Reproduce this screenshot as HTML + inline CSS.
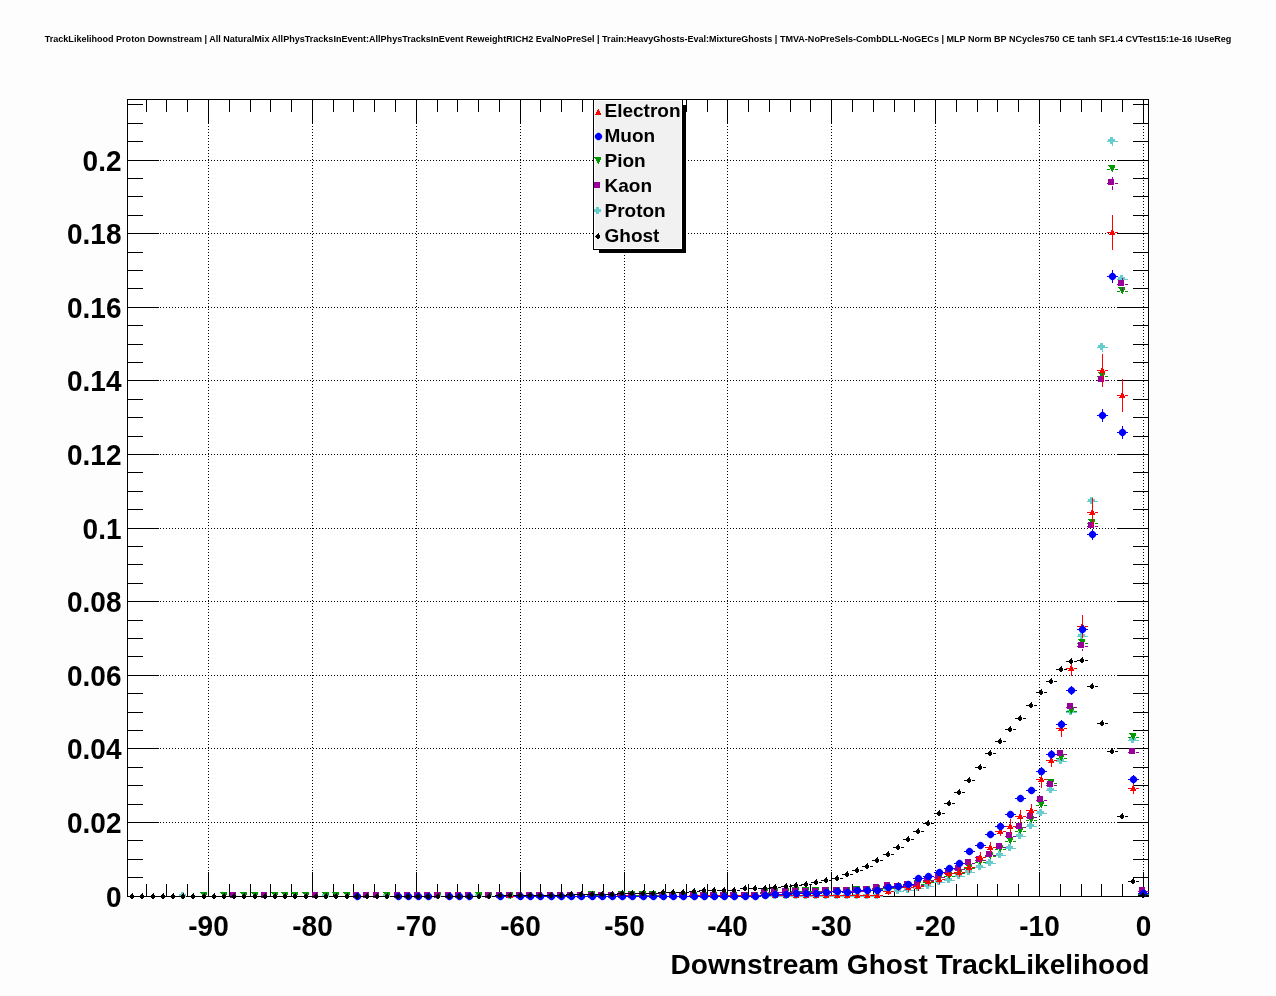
<!DOCTYPE html>
<html><head><meta charset="utf-8"><title>TrackLikelihood Proton Downstream</title>
<style>
html,body{margin:0;padding:0;background:#fdfdfd;width:1276px;height:996px;overflow:hidden}
svg{display:block;will-change:transform}
.t{font-family:"Liberation Sans",Arial,Helvetica,sans-serif;font-weight:bold;fill:#000}
.gd{stroke:#000;stroke-width:1;stroke-dasharray:1 2;fill:none}
</style></head><body>
<svg width="1276" height="996" viewBox="0 0 1276 996" shape-rendering="crispEdges">
<rect x="0" y="0" width="1276" height="996" fill="#fdfdfd"/>
<rect x="126" y="98" width="1024" height="800" fill="#ffffff"/>
<text x="638" y="42" text-anchor="middle" font-size="9" textLength="1186.5" lengthAdjust="spacingAndGlyphs" class="t">TrackLikelihood Proton Downstream | All NaturalMix AllPhysTracksInEvent:AllPhysTracksInEvent ReweightRICH2 EvalNoPreSel | Train:HeavyGhosts-Eval:MixtureGhosts | TMVA-NoPreSels-CombDLL-NoGECs | MLP Norm BP NCycles750 CE tanh SF1.4 CVTest15:1e-16 !UseReg</text>
<g><line x1="208.5" y1="99" x2="208.5" y2="896" class="gd"/><line x1="312.5" y1="99" x2="312.5" y2="896" class="gd"/><line x1="416.5" y1="99" x2="416.5" y2="896" class="gd"/><line x1="520.5" y1="99" x2="520.5" y2="896" class="gd"/><line x1="624.5" y1="99" x2="624.5" y2="896" class="gd"/><line x1="727.5" y1="99" x2="727.5" y2="896" class="gd"/><line x1="831.5" y1="99" x2="831.5" y2="896" class="gd"/><line x1="935.5" y1="99" x2="935.5" y2="896" class="gd"/><line x1="1039.5" y1="99" x2="1039.5" y2="896" class="gd"/><line x1="1143.5" y1="99" x2="1143.5" y2="896" class="gd"/><line x1="127" y1="822.5" x2="1148" y2="822.5" class="gd"/><line x1="127" y1="748.5" x2="1148" y2="748.5" class="gd"/><line x1="127" y1="675.5" x2="1148" y2="675.5" class="gd"/><line x1="127" y1="601.5" x2="1148" y2="601.5" class="gd"/><line x1="127" y1="528.5" x2="1148" y2="528.5" class="gd"/><line x1="127" y1="454.5" x2="1148" y2="454.5" class="gd"/><line x1="127" y1="380.5" x2="1148" y2="380.5" class="gd"/><line x1="127" y1="307.5" x2="1148" y2="307.5" class="gd"/><line x1="127" y1="233.5" x2="1148" y2="233.5" class="gd"/><line x1="127" y1="160.5" x2="1148" y2="160.5" class="gd"/></g>
<path d="M146.5 896V884M146.5 100V112M166.5 896V884M166.5 100V112M187.5 896V884M187.5 100V112M208.5 896V872M208.5 100V124M229.5 896V884M229.5 100V112M250.5 896V884M250.5 100V112M270.5 896V884M270.5 100V112M291.5 896V884M291.5 100V112M312.5 896V872M312.5 100V124M333.5 896V884M333.5 100V112M353.5 896V884M353.5 100V112M374.5 896V884M374.5 100V112M395.5 896V884M395.5 100V112M416.5 896V872M416.5 100V124M437.5 896V884M437.5 100V112M457.5 896V884M457.5 100V112M478.5 896V884M478.5 100V112M499.5 896V884M499.5 100V112M520.5 896V872M520.5 100V124M540.5 896V884M540.5 100V112M561.5 896V884M561.5 100V112M582.5 896V884M582.5 100V112M603.5 896V884M603.5 100V112M624.5 896V872M624.5 100V124M644.5 896V884M644.5 100V112M665.5 896V884M665.5 100V112M686.5 896V884M686.5 100V112M707.5 896V884M707.5 100V112M727.5 896V872M727.5 100V124M748.5 896V884M748.5 100V112M769.5 896V884M769.5 100V112M790.5 896V884M790.5 100V112M810.5 896V884M810.5 100V112M831.5 896V872M831.5 100V124M852.5 896V884M852.5 100V112M873.5 896V884M873.5 100V112M894.5 896V884M894.5 100V112M914.5 896V884M914.5 100V112M935.5 896V872M935.5 100V124M956.5 896V884M956.5 100V112M977.5 896V884M977.5 100V112M997.5 896V884M997.5 100V112M1018.5 896V884M1018.5 100V112M1039.5 896V872M1039.5 100V124M1060.5 896V884M1060.5 100V112M1081.5 896V884M1081.5 100V112M1101.5 896V884M1101.5 100V112M1122.5 896V884M1122.5 100V112M1143.5 896V872M1143.5 100V124M128 896.5H159M1148 896.5H1117M128 877.5H143M1148 877.5H1133M128 859.5H143M1148 859.5H1133M128 840.5H143M1148 840.5H1133M128 822.5H159M1148 822.5H1117M128 804.5H143M1148 804.5H1133M128 785.5H143M1148 785.5H1133M128 767.5H143M1148 767.5H1133M128 748.5H159M1148 748.5H1117M128 730.5H143M1148 730.5H1133M128 712.5H143M1148 712.5H1133M128 693.5H143M1148 693.5H1133M128 675.5H159M1148 675.5H1117M128 656.5H143M1148 656.5H1133M128 638.5H143M1148 638.5H1133M128 620.5H143M1148 620.5H1133M128 601.5H159M1148 601.5H1117M128 583.5H143M1148 583.5H1133M128 564.5H143M1148 564.5H1133M128 546.5H143M1148 546.5H1133M128 528.5H159M1148 528.5H1117M128 509.5H143M1148 509.5H1133M128 491.5H143M1148 491.5H1133M128 472.5H143M1148 472.5H1133M128 454.5H159M1148 454.5H1117M128 436.5H143M1148 436.5H1133M128 417.5H143M1148 417.5H1133M128 399.5H143M1148 399.5H1133M128 380.5H159M1148 380.5H1117M128 362.5H143M1148 362.5H1133M128 344.5H143M1148 344.5H1133M128 325.5H143M1148 325.5H1133M128 307.5H159M1148 307.5H1117M128 288.5H143M1148 288.5H1133M128 270.5H143M1148 270.5H1133M128 252.5H143M1148 252.5H1133M128 233.5H159M1148 233.5H1117M128 215.5H143M1148 215.5H1133M128 196.5H143M1148 196.5H1133M128 178.5H143M1148 178.5H1133M128 160.5H159M1148 160.5H1117M128 141.5H143M1148 141.5H1133M128 123.5H143M1148 123.5H1133M128 104.5H143M1148 104.5H1133" stroke="#000" stroke-width="1" fill="none"/>
<rect x="127.5" y="99.5" width="1021" height="797" fill="none" stroke="#000" stroke-width="1"/>
<text transform="translate(121.5 907.4) scale(1 1.07)" text-anchor="end" font-size="28" class="t">0</text><text transform="translate(121.5 833.4) scale(1 1.07)" text-anchor="end" font-size="28" class="t">0.02</text><text transform="translate(121.5 759.4) scale(1 1.07)" text-anchor="end" font-size="28" class="t">0.04</text><text transform="translate(121.5 686.4) scale(1 1.07)" text-anchor="end" font-size="28" class="t">0.06</text><text transform="translate(121.5 612.4) scale(1 1.07)" text-anchor="end" font-size="28" class="t">0.08</text><text transform="translate(121.5 539.4) scale(1 1.07)" text-anchor="end" font-size="28" class="t">0.1</text><text transform="translate(121.5 465.4) scale(1 1.07)" text-anchor="end" font-size="28" class="t">0.12</text><text transform="translate(121.5 391.4) scale(1 1.07)" text-anchor="end" font-size="28" class="t">0.14</text><text transform="translate(121.5 318.4) scale(1 1.07)" text-anchor="end" font-size="28" class="t">0.16</text><text transform="translate(121.5 244.4) scale(1 1.07)" text-anchor="end" font-size="28" class="t">0.18</text><text transform="translate(121.5 171.4) scale(1 1.07)" text-anchor="end" font-size="28" class="t">0.2</text><text transform="translate(208.5 935.7) scale(1 1.07)" text-anchor="middle" font-size="28" class="t">-90</text><text transform="translate(312.5 935.7) scale(1 1.07)" text-anchor="middle" font-size="28" class="t">-80</text><text transform="translate(416.5 935.7) scale(1 1.07)" text-anchor="middle" font-size="28" class="t">-70</text><text transform="translate(520.5 935.7) scale(1 1.07)" text-anchor="middle" font-size="28" class="t">-60</text><text transform="translate(624.5 935.7) scale(1 1.07)" text-anchor="middle" font-size="28" class="t">-50</text><text transform="translate(727.5 935.7) scale(1 1.07)" text-anchor="middle" font-size="28" class="t">-40</text><text transform="translate(831.5 935.7) scale(1 1.07)" text-anchor="middle" font-size="28" class="t">-30</text><text transform="translate(935.5 935.7) scale(1 1.07)" text-anchor="middle" font-size="28" class="t">-20</text><text transform="translate(1039.5 935.7) scale(1 1.07)" text-anchor="middle" font-size="28" class="t">-10</text><text transform="translate(1143.5 935.7) scale(1 1.07)" text-anchor="middle" font-size="28" class="t">0</text><text x="1149.5" y="974" text-anchor="end" font-size="28" textLength="479" lengthAdjust="spacingAndGlyphs" class="t">Downstream Ghost TrackLikelihood</text>
<g><path d="M178 896.5H181M186 896.5H189M321 896.5H324M329 896.5H332M382 896.5H385M390 896.5H393M433 896.5H436M441 896.5H444M474 896.5H477M482 896.5H485M484 896.5H487M492 896.5H495M505 896.5H508M513 896.5H516M638 896.5H641M646 896.5H649M648 896.5H651M656 896.5H659M658 896.5H661M666 896.5H669M668 896.5H671M676 896.5H679M678 896.5H681M686 896.5H689M689 896.5H692M697 896.5H700M699 896.5H702M707 896.5H710M709 896.5H712M717 896.5H720M719 896.5H722M727 896.5H730M729 896.5H732M737 896.5H740M740 896.5H743M748 896.5H751M750 896.5H753M758 896.5H761M760 896.5H763M768 896.5H771M770 896.5H773M778 896.5H781M781 896.5H784M789 896.5H792M791 896.5H794M799 896.5H802M801 896.5H804M809 896.5H812M811 896.5H814M819 896.5H822M821 896.5H824M829 896.5H832M832 896.5H835M840 896.5H843M842 896.5H845M850 896.5H853M852 896.5H855M860 896.5H863M862 896.5H865M870 896.5H873M872 896.5H875M880 896.5H883M883 891.5H886M891 891.5H894M893 891.5H896M901 891.5H904M903 890.5H906M911 890.5H914M913 888.5H916M921 888.5H924M923 886.5H926M931 886.5H934M934 882.5H937M942 882.5H945M944 880.5H947M952 880.5H955M954 876.5H957M962 876.5H965M964 872.5H967M972 872.5H975M975 867.5H978M983 867.5H986M985 863.5H988M993 863.5H996M995 855.5H998M1003 855.5H1006M1005 848.5H1008M1013 848.5H1016M1015 836.5H1018M1023 836.5H1026M1026 826.5H1029M1034 826.5H1037M1036 813.5H1039M1044 813.5H1047M1046 790.5H1049M1054 790.5H1057M1056 761.5H1059M1064 761.5H1067M1066 712.5H1069M1074 712.5H1077M1077 636.5H1080M1085 636.5H1088M1087 501.5H1090M1095 501.5H1098M1092.5 497V499M1092.5 504V506M1097 347.5H1100M1105 347.5H1108M1102.5 343V345M1102.5 350V352M1107 141.5H1110M1115 141.5H1118M1112.5 137V139M1112.5 144V146M1117 279.5H1120M1125 279.5H1128M1122.5 275V277M1122.5 282V284M1128 740.5H1131M1136 740.5H1139M1138 894.5H1141M1146 894.5H1149" stroke="#66cccc" stroke-width="1" fill="none"/><path d="M181 892h3v1h-3zM181 893h3v1h-3zM179 894h7v1h-7zM179 895h7v1h-7zM179 896h7v1h-7zM181 897h3v1h-3zM181 898h3v1h-3zM324 892h3v1h-3zM324 893h3v1h-3zM322 894h7v1h-7zM322 895h7v1h-7zM322 896h7v1h-7zM324 897h3v1h-3zM324 898h3v1h-3zM385 892h3v1h-3zM385 893h3v1h-3zM383 894h7v1h-7zM383 895h7v1h-7zM383 896h7v1h-7zM385 897h3v1h-3zM385 898h3v1h-3zM436 892h3v1h-3zM436 893h3v1h-3zM434 894h7v1h-7zM434 895h7v1h-7zM434 896h7v1h-7zM436 897h3v1h-3zM436 898h3v1h-3zM477 892h3v1h-3zM477 893h3v1h-3zM475 894h7v1h-7zM475 895h7v1h-7zM475 896h7v1h-7zM477 897h3v1h-3zM477 898h3v1h-3zM487 892h3v1h-3zM487 893h3v1h-3zM485 894h7v1h-7zM485 895h7v1h-7zM485 896h7v1h-7zM487 897h3v1h-3zM487 898h3v1h-3zM508 892h3v1h-3zM508 893h3v1h-3zM506 894h7v1h-7zM506 895h7v1h-7zM506 896h7v1h-7zM508 897h3v1h-3zM508 898h3v1h-3zM641 892h3v1h-3zM641 893h3v1h-3zM639 894h7v1h-7zM639 895h7v1h-7zM639 896h7v1h-7zM641 897h3v1h-3zM641 898h3v1h-3zM651 892h3v1h-3zM651 893h3v1h-3zM649 894h7v1h-7zM649 895h7v1h-7zM649 896h7v1h-7zM651 897h3v1h-3zM651 898h3v1h-3zM661 892h3v1h-3zM661 893h3v1h-3zM659 894h7v1h-7zM659 895h7v1h-7zM659 896h7v1h-7zM661 897h3v1h-3zM661 898h3v1h-3zM671 892h3v1h-3zM671 893h3v1h-3zM669 894h7v1h-7zM669 895h7v1h-7zM669 896h7v1h-7zM671 897h3v1h-3zM671 898h3v1h-3zM681 892h3v1h-3zM681 893h3v1h-3zM679 894h7v1h-7zM679 895h7v1h-7zM679 896h7v1h-7zM681 897h3v1h-3zM681 898h3v1h-3zM692 892h3v1h-3zM692 893h3v1h-3zM690 894h7v1h-7zM690 895h7v1h-7zM690 896h7v1h-7zM692 897h3v1h-3zM692 898h3v1h-3zM702 892h3v1h-3zM702 893h3v1h-3zM700 894h7v1h-7zM700 895h7v1h-7zM700 896h7v1h-7zM702 897h3v1h-3zM702 898h3v1h-3zM712 892h3v1h-3zM712 893h3v1h-3zM710 894h7v1h-7zM710 895h7v1h-7zM710 896h7v1h-7zM712 897h3v1h-3zM712 898h3v1h-3zM722 892h3v1h-3zM722 893h3v1h-3zM720 894h7v1h-7zM720 895h7v1h-7zM720 896h7v1h-7zM722 897h3v1h-3zM722 898h3v1h-3zM732 892h3v1h-3zM732 893h3v1h-3zM730 894h7v1h-7zM730 895h7v1h-7zM730 896h7v1h-7zM732 897h3v1h-3zM732 898h3v1h-3zM743 892h3v1h-3zM743 893h3v1h-3zM741 894h7v1h-7zM741 895h7v1h-7zM741 896h7v1h-7zM743 897h3v1h-3zM743 898h3v1h-3zM753 892h3v1h-3zM753 893h3v1h-3zM751 894h7v1h-7zM751 895h7v1h-7zM751 896h7v1h-7zM753 897h3v1h-3zM753 898h3v1h-3zM763 892h3v1h-3zM763 893h3v1h-3zM761 894h7v1h-7zM761 895h7v1h-7zM761 896h7v1h-7zM763 897h3v1h-3zM763 898h3v1h-3zM773 892h3v1h-3zM773 893h3v1h-3zM771 894h7v1h-7zM771 895h7v1h-7zM771 896h7v1h-7zM773 897h3v1h-3zM773 898h3v1h-3zM784 892h3v1h-3zM784 893h3v1h-3zM782 894h7v1h-7zM782 895h7v1h-7zM782 896h7v1h-7zM784 897h3v1h-3zM784 898h3v1h-3zM794 892h3v1h-3zM794 893h3v1h-3zM792 894h7v1h-7zM792 895h7v1h-7zM792 896h7v1h-7zM794 897h3v1h-3zM794 898h3v1h-3zM804 892h3v1h-3zM804 893h3v1h-3zM802 894h7v1h-7zM802 895h7v1h-7zM802 896h7v1h-7zM804 897h3v1h-3zM804 898h3v1h-3zM814 892h3v1h-3zM814 893h3v1h-3zM812 894h7v1h-7zM812 895h7v1h-7zM812 896h7v1h-7zM814 897h3v1h-3zM814 898h3v1h-3zM824 892h3v1h-3zM824 893h3v1h-3zM822 894h7v1h-7zM822 895h7v1h-7zM822 896h7v1h-7zM824 897h3v1h-3zM824 898h3v1h-3zM835 892h3v1h-3zM835 893h3v1h-3zM833 894h7v1h-7zM833 895h7v1h-7zM833 896h7v1h-7zM835 897h3v1h-3zM835 898h3v1h-3zM845 892h3v1h-3zM845 893h3v1h-3zM843 894h7v1h-7zM843 895h7v1h-7zM843 896h7v1h-7zM845 897h3v1h-3zM845 898h3v1h-3zM855 892h3v1h-3zM855 893h3v1h-3zM853 894h7v1h-7zM853 895h7v1h-7zM853 896h7v1h-7zM855 897h3v1h-3zM855 898h3v1h-3zM865 892h3v1h-3zM865 893h3v1h-3zM863 894h7v1h-7zM863 895h7v1h-7zM863 896h7v1h-7zM865 897h3v1h-3zM865 898h3v1h-3zM875 892h3v1h-3zM875 893h3v1h-3zM873 894h7v1h-7zM873 895h7v1h-7zM873 896h7v1h-7zM875 897h3v1h-3zM875 898h3v1h-3zM886 887h3v1h-3zM886 888h3v1h-3zM884 889h7v1h-7zM884 890h7v1h-7zM884 891h7v1h-7zM886 892h3v1h-3zM886 893h3v1h-3zM896 887h3v1h-3zM896 888h3v1h-3zM894 889h7v1h-7zM894 890h7v1h-7zM894 891h7v1h-7zM896 892h3v1h-3zM896 893h3v1h-3zM906 886h3v1h-3zM906 887h3v1h-3zM904 888h7v1h-7zM904 889h7v1h-7zM904 890h7v1h-7zM906 891h3v1h-3zM906 892h3v1h-3zM916 884h3v1h-3zM916 885h3v1h-3zM914 886h7v1h-7zM914 887h7v1h-7zM914 888h7v1h-7zM916 889h3v1h-3zM916 890h3v1h-3zM926 882h3v1h-3zM926 883h3v1h-3zM924 884h7v1h-7zM924 885h7v1h-7zM924 886h7v1h-7zM926 887h3v1h-3zM926 888h3v1h-3zM937 878h3v1h-3zM937 879h3v1h-3zM935 880h7v1h-7zM935 881h7v1h-7zM935 882h7v1h-7zM937 883h3v1h-3zM937 884h3v1h-3zM947 876h3v1h-3zM947 877h3v1h-3zM945 878h7v1h-7zM945 879h7v1h-7zM945 880h7v1h-7zM947 881h3v1h-3zM947 882h3v1h-3zM957 872h3v1h-3zM957 873h3v1h-3zM955 874h7v1h-7zM955 875h7v1h-7zM955 876h7v1h-7zM957 877h3v1h-3zM957 878h3v1h-3zM967 868h3v1h-3zM967 869h3v1h-3zM965 870h7v1h-7zM965 871h7v1h-7zM965 872h7v1h-7zM967 873h3v1h-3zM967 874h3v1h-3zM978 863h3v1h-3zM978 864h3v1h-3zM976 865h7v1h-7zM976 866h7v1h-7zM976 867h7v1h-7zM978 868h3v1h-3zM978 869h3v1h-3zM988 859h3v1h-3zM988 860h3v1h-3zM986 861h7v1h-7zM986 862h7v1h-7zM986 863h7v1h-7zM988 864h3v1h-3zM988 865h3v1h-3zM998 851h3v1h-3zM998 852h3v1h-3zM996 853h7v1h-7zM996 854h7v1h-7zM996 855h7v1h-7zM998 856h3v1h-3zM998 857h3v1h-3zM1008 844h3v1h-3zM1008 845h3v1h-3zM1006 846h7v1h-7zM1006 847h7v1h-7zM1006 848h7v1h-7zM1008 849h3v1h-3zM1008 850h3v1h-3zM1018 832h3v1h-3zM1018 833h3v1h-3zM1016 834h7v1h-7zM1016 835h7v1h-7zM1016 836h7v1h-7zM1018 837h3v1h-3zM1018 838h3v1h-3zM1029 822h3v1h-3zM1029 823h3v1h-3zM1027 824h7v1h-7zM1027 825h7v1h-7zM1027 826h7v1h-7zM1029 827h3v1h-3zM1029 828h3v1h-3zM1039 809h3v1h-3zM1039 810h3v1h-3zM1037 811h7v1h-7zM1037 812h7v1h-7zM1037 813h7v1h-7zM1039 814h3v1h-3zM1039 815h3v1h-3zM1049 786h3v1h-3zM1049 787h3v1h-3zM1047 788h7v1h-7zM1047 789h7v1h-7zM1047 790h7v1h-7zM1049 791h3v1h-3zM1049 792h3v1h-3zM1059 757h3v1h-3zM1059 758h3v1h-3zM1057 759h7v1h-7zM1057 760h7v1h-7zM1057 761h7v1h-7zM1059 762h3v1h-3zM1059 763h3v1h-3zM1069 708h3v1h-3zM1069 709h3v1h-3zM1067 710h7v1h-7zM1067 711h7v1h-7zM1067 712h7v1h-7zM1069 713h3v1h-3zM1069 714h3v1h-3zM1080 632h3v1h-3zM1080 633h3v1h-3zM1078 634h7v1h-7zM1078 635h7v1h-7zM1078 636h7v1h-7zM1080 637h3v1h-3zM1080 638h3v1h-3zM1090 497h3v1h-3zM1090 498h3v1h-3zM1088 499h7v1h-7zM1088 500h7v1h-7zM1088 501h7v1h-7zM1090 502h3v1h-3zM1090 503h3v1h-3zM1100 343h3v1h-3zM1100 344h3v1h-3zM1098 345h7v1h-7zM1098 346h7v1h-7zM1098 347h7v1h-7zM1100 348h3v1h-3zM1100 349h3v1h-3zM1110 137h3v1h-3zM1110 138h3v1h-3zM1108 139h7v1h-7zM1108 140h7v1h-7zM1108 141h7v1h-7zM1110 142h3v1h-3zM1110 143h3v1h-3zM1120 275h3v1h-3zM1120 276h3v1h-3zM1118 277h7v1h-7zM1118 278h7v1h-7zM1118 279h7v1h-7zM1120 280h3v1h-3zM1120 281h3v1h-3zM1131 736h3v1h-3zM1131 737h3v1h-3zM1129 738h7v1h-7zM1129 739h7v1h-7zM1129 740h7v1h-7zM1131 741h3v1h-3zM1131 742h3v1h-3zM1141 890h3v1h-3zM1141 891h3v1h-3zM1139 892h7v1h-7zM1139 893h7v1h-7zM1139 894h7v1h-7zM1141 895h3v1h-3zM1141 896h3v1h-3z" fill="#66cccc"/><path d="M199 896.5H202M207 896.5H210M219 896.5H222M227 896.5H230M239 896.5H242M247 896.5H250M250 896.5H253M258 896.5H261M270 896.5H273M278 896.5H281M280 896.5H283M288 896.5H291M290 896.5H293M298 896.5H301M301 896.5H304M309 896.5H312M321 896.5H324M329 896.5H332M331 896.5H334M339 896.5H342M342 896.5H345M350 896.5H353M382 896.5H385M390 896.5H393M433 896.5H436M441 896.5H444M474 896.5H477M482 896.5H485M484 896.5H487M492 896.5H495M505 896.5H508M513 896.5H516M587 895.5H590M595 895.5H598M617 895.5H620M625 895.5H628M627 895.5H630M635 895.5H638M638 895.5H641M646 895.5H649M648 895.5H651M656 895.5H659M658 896.5H661M666 896.5H669M668 896.5H671M676 896.5H679M678 896.5H681M686 896.5H689M689 896.5H692M697 896.5H700M699 896.5H702M707 896.5H710M709 896.5H712M717 896.5H720M719 896.5H722M727 896.5H730M729 896.5H732M737 896.5H740M740 896.5H743M748 896.5H751M750 896.5H753M758 896.5H761M760 892.5H763M768 892.5H771M770 892.5H773M778 892.5H781M781 892.5H784M789 892.5H792M791 891.5H794M799 891.5H802M801 891.5H804M809 891.5H812M811 891.5H814M819 891.5H822M821 891.5H824M829 891.5H832M832 891.5H835M840 891.5H843M842 891.5H845M850 891.5H853M852 890.5H855M860 890.5H863M862 890.5H865M870 890.5H873M872 889.5H875M880 889.5H883M883 888.5H886M891 888.5H894M893 887.5H896M901 887.5H904M903 887.5H906M911 887.5H914M913 884.5H916M921 884.5H924M923 882.5H926M931 882.5H934M934 879.5H937M942 879.5H945M944 876.5H947M952 876.5H955M954 873.5H957M962 873.5H965M964 868.5H967M972 868.5H975M975 862.5H978M983 862.5H986M985 856.5H988M993 856.5H996M995 849.5H998M1003 849.5H1006M1005 841.5H1008M1013 841.5H1016M1015 831.5H1018M1023 831.5H1026M1026 820.5H1029M1034 820.5H1037M1036 805.5H1039M1044 805.5H1047M1046 783.5H1049M1054 783.5H1057M1056 758.5H1059M1064 758.5H1067M1066 711.5H1069M1074 711.5H1077M1077 643.5H1080M1085 643.5H1088M1087 523.5H1090M1095 523.5H1098M1097 376.5H1100M1105 376.5H1108M1107 169.5H1110M1115 169.5H1118M1117 291.5H1120M1125 291.5H1128M1128 737.5H1131M1136 737.5H1139M1138 894.5H1141M1146 894.5H1149" stroke="#009900" stroke-width="1" fill="none"/><path d="M200 892h7v1h-7zM201 893h6v1h-6zM202 894h5v1h-5zM202 895h4v1h-4zM203 896h3v1h-3zM203 897h2v1h-2zM204 898h1v1h-1zM220 892h7v1h-7zM221 893h6v1h-6zM222 894h5v1h-5zM222 895h4v1h-4zM223 896h3v1h-3zM223 897h2v1h-2zM224 898h1v1h-1zM240 892h7v1h-7zM241 893h6v1h-6zM242 894h5v1h-5zM242 895h4v1h-4zM243 896h3v1h-3zM243 897h2v1h-2zM244 898h1v1h-1zM251 892h7v1h-7zM252 893h6v1h-6zM253 894h5v1h-5zM253 895h4v1h-4zM254 896h3v1h-3zM254 897h2v1h-2zM255 898h1v1h-1zM271 892h7v1h-7zM272 893h6v1h-6zM273 894h5v1h-5zM273 895h4v1h-4zM274 896h3v1h-3zM274 897h2v1h-2zM275 898h1v1h-1zM281 892h7v1h-7zM282 893h6v1h-6zM283 894h5v1h-5zM283 895h4v1h-4zM284 896h3v1h-3zM284 897h2v1h-2zM285 898h1v1h-1zM291 892h7v1h-7zM292 893h6v1h-6zM293 894h5v1h-5zM293 895h4v1h-4zM294 896h3v1h-3zM294 897h2v1h-2zM295 898h1v1h-1zM302 892h7v1h-7zM303 893h6v1h-6zM304 894h5v1h-5zM304 895h4v1h-4zM305 896h3v1h-3zM305 897h2v1h-2zM306 898h1v1h-1zM322 892h7v1h-7zM323 893h6v1h-6zM324 894h5v1h-5zM324 895h4v1h-4zM325 896h3v1h-3zM325 897h2v1h-2zM326 898h1v1h-1zM332 892h7v1h-7zM333 893h6v1h-6zM334 894h5v1h-5zM334 895h4v1h-4zM335 896h3v1h-3zM335 897h2v1h-2zM336 898h1v1h-1zM343 892h7v1h-7zM344 893h6v1h-6zM345 894h5v1h-5zM345 895h4v1h-4zM346 896h3v1h-3zM346 897h2v1h-2zM347 898h1v1h-1zM383 892h7v1h-7zM384 893h6v1h-6zM385 894h5v1h-5zM385 895h4v1h-4zM386 896h3v1h-3zM386 897h2v1h-2zM387 898h1v1h-1zM434 892h7v1h-7zM435 893h6v1h-6zM436 894h5v1h-5zM436 895h4v1h-4zM437 896h3v1h-3zM437 897h2v1h-2zM438 898h1v1h-1zM475 892h7v1h-7zM476 893h6v1h-6zM477 894h5v1h-5zM477 895h4v1h-4zM478 896h3v1h-3zM478 897h2v1h-2zM479 898h1v1h-1zM485 892h7v1h-7zM486 893h6v1h-6zM487 894h5v1h-5zM487 895h4v1h-4zM488 896h3v1h-3zM488 897h2v1h-2zM489 898h1v1h-1zM506 892h7v1h-7zM507 893h6v1h-6zM508 894h5v1h-5zM508 895h4v1h-4zM509 896h3v1h-3zM509 897h2v1h-2zM510 898h1v1h-1zM588 891h7v1h-7zM589 892h6v1h-6zM590 893h5v1h-5zM590 894h4v1h-4zM591 895h3v1h-3zM591 896h2v1h-2zM592 897h1v1h-1zM618 891h7v1h-7zM619 892h6v1h-6zM620 893h5v1h-5zM620 894h4v1h-4zM621 895h3v1h-3zM621 896h2v1h-2zM622 897h1v1h-1zM628 891h7v1h-7zM629 892h6v1h-6zM630 893h5v1h-5zM630 894h4v1h-4zM631 895h3v1h-3zM631 896h2v1h-2zM632 897h1v1h-1zM639 891h7v1h-7zM640 892h6v1h-6zM641 893h5v1h-5zM641 894h4v1h-4zM642 895h3v1h-3zM642 896h2v1h-2zM643 897h1v1h-1zM649 891h7v1h-7zM650 892h6v1h-6zM651 893h5v1h-5zM651 894h4v1h-4zM652 895h3v1h-3zM652 896h2v1h-2zM653 897h1v1h-1zM659 892h7v1h-7zM660 893h6v1h-6zM661 894h5v1h-5zM661 895h4v1h-4zM662 896h3v1h-3zM662 897h2v1h-2zM663 898h1v1h-1zM669 892h7v1h-7zM670 893h6v1h-6zM671 894h5v1h-5zM671 895h4v1h-4zM672 896h3v1h-3zM672 897h2v1h-2zM673 898h1v1h-1zM679 892h7v1h-7zM680 893h6v1h-6zM681 894h5v1h-5zM681 895h4v1h-4zM682 896h3v1h-3zM682 897h2v1h-2zM683 898h1v1h-1zM690 892h7v1h-7zM691 893h6v1h-6zM692 894h5v1h-5zM692 895h4v1h-4zM693 896h3v1h-3zM693 897h2v1h-2zM694 898h1v1h-1zM700 892h7v1h-7zM701 893h6v1h-6zM702 894h5v1h-5zM702 895h4v1h-4zM703 896h3v1h-3zM703 897h2v1h-2zM704 898h1v1h-1zM710 892h7v1h-7zM711 893h6v1h-6zM712 894h5v1h-5zM712 895h4v1h-4zM713 896h3v1h-3zM713 897h2v1h-2zM714 898h1v1h-1zM720 892h7v1h-7zM721 893h6v1h-6zM722 894h5v1h-5zM722 895h4v1h-4zM723 896h3v1h-3zM723 897h2v1h-2zM724 898h1v1h-1zM730 892h7v1h-7zM731 893h6v1h-6zM732 894h5v1h-5zM732 895h4v1h-4zM733 896h3v1h-3zM733 897h2v1h-2zM734 898h1v1h-1zM741 892h7v1h-7zM742 893h6v1h-6zM743 894h5v1h-5zM743 895h4v1h-4zM744 896h3v1h-3zM744 897h2v1h-2zM745 898h1v1h-1zM751 892h7v1h-7zM752 893h6v1h-6zM753 894h5v1h-5zM753 895h4v1h-4zM754 896h3v1h-3zM754 897h2v1h-2zM755 898h1v1h-1zM761 888h7v1h-7zM762 889h6v1h-6zM763 890h5v1h-5zM763 891h4v1h-4zM764 892h3v1h-3zM764 893h2v1h-2zM765 894h1v1h-1zM771 888h7v1h-7zM772 889h6v1h-6zM773 890h5v1h-5zM773 891h4v1h-4zM774 892h3v1h-3zM774 893h2v1h-2zM775 894h1v1h-1zM782 888h7v1h-7zM783 889h6v1h-6zM784 890h5v1h-5zM784 891h4v1h-4zM785 892h3v1h-3zM785 893h2v1h-2zM786 894h1v1h-1zM792 887h7v1h-7zM793 888h6v1h-6zM794 889h5v1h-5zM794 890h4v1h-4zM795 891h3v1h-3zM795 892h2v1h-2zM796 893h1v1h-1zM802 887h7v1h-7zM803 888h6v1h-6zM804 889h5v1h-5zM804 890h4v1h-4zM805 891h3v1h-3zM805 892h2v1h-2zM806 893h1v1h-1zM812 887h7v1h-7zM813 888h6v1h-6zM814 889h5v1h-5zM814 890h4v1h-4zM815 891h3v1h-3zM815 892h2v1h-2zM816 893h1v1h-1zM822 887h7v1h-7zM823 888h6v1h-6zM824 889h5v1h-5zM824 890h4v1h-4zM825 891h3v1h-3zM825 892h2v1h-2zM826 893h1v1h-1zM833 887h7v1h-7zM834 888h6v1h-6zM835 889h5v1h-5zM835 890h4v1h-4zM836 891h3v1h-3zM836 892h2v1h-2zM837 893h1v1h-1zM843 887h7v1h-7zM844 888h6v1h-6zM845 889h5v1h-5zM845 890h4v1h-4zM846 891h3v1h-3zM846 892h2v1h-2zM847 893h1v1h-1zM853 886h7v1h-7zM854 887h6v1h-6zM855 888h5v1h-5zM855 889h4v1h-4zM856 890h3v1h-3zM856 891h2v1h-2zM857 892h1v1h-1zM863 886h7v1h-7zM864 887h6v1h-6zM865 888h5v1h-5zM865 889h4v1h-4zM866 890h3v1h-3zM866 891h2v1h-2zM867 892h1v1h-1zM873 885h7v1h-7zM874 886h6v1h-6zM875 887h5v1h-5zM875 888h4v1h-4zM876 889h3v1h-3zM876 890h2v1h-2zM877 891h1v1h-1zM884 884h7v1h-7zM885 885h6v1h-6zM886 886h5v1h-5zM886 887h4v1h-4zM887 888h3v1h-3zM887 889h2v1h-2zM888 890h1v1h-1zM894 883h7v1h-7zM895 884h6v1h-6zM896 885h5v1h-5zM896 886h4v1h-4zM897 887h3v1h-3zM897 888h2v1h-2zM898 889h1v1h-1zM904 883h7v1h-7zM905 884h6v1h-6zM906 885h5v1h-5zM906 886h4v1h-4zM907 887h3v1h-3zM907 888h2v1h-2zM908 889h1v1h-1zM914 880h7v1h-7zM915 881h6v1h-6zM916 882h5v1h-5zM916 883h4v1h-4zM917 884h3v1h-3zM917 885h2v1h-2zM918 886h1v1h-1zM924 878h7v1h-7zM925 879h6v1h-6zM926 880h5v1h-5zM926 881h4v1h-4zM927 882h3v1h-3zM927 883h2v1h-2zM928 884h1v1h-1zM935 875h7v1h-7zM936 876h6v1h-6zM937 877h5v1h-5zM937 878h4v1h-4zM938 879h3v1h-3zM938 880h2v1h-2zM939 881h1v1h-1zM945 872h7v1h-7zM946 873h6v1h-6zM947 874h5v1h-5zM947 875h4v1h-4zM948 876h3v1h-3zM948 877h2v1h-2zM949 878h1v1h-1zM955 869h7v1h-7zM956 870h6v1h-6zM957 871h5v1h-5zM957 872h4v1h-4zM958 873h3v1h-3zM958 874h2v1h-2zM959 875h1v1h-1zM965 864h7v1h-7zM966 865h6v1h-6zM967 866h5v1h-5zM967 867h4v1h-4zM968 868h3v1h-3zM968 869h2v1h-2zM969 870h1v1h-1zM976 858h7v1h-7zM977 859h6v1h-6zM978 860h5v1h-5zM978 861h4v1h-4zM979 862h3v1h-3zM979 863h2v1h-2zM980 864h1v1h-1zM986 852h7v1h-7zM987 853h6v1h-6zM988 854h5v1h-5zM988 855h4v1h-4zM989 856h3v1h-3zM989 857h2v1h-2zM990 858h1v1h-1zM996 845h7v1h-7zM997 846h6v1h-6zM998 847h5v1h-5zM998 848h4v1h-4zM999 849h3v1h-3zM999 850h2v1h-2zM1000 851h1v1h-1zM1006 837h7v1h-7zM1007 838h6v1h-6zM1008 839h5v1h-5zM1008 840h4v1h-4zM1009 841h3v1h-3zM1009 842h2v1h-2zM1010 843h1v1h-1zM1016 827h7v1h-7zM1017 828h6v1h-6zM1018 829h5v1h-5zM1018 830h4v1h-4zM1019 831h3v1h-3zM1019 832h2v1h-2zM1020 833h1v1h-1zM1027 816h7v1h-7zM1028 817h6v1h-6zM1029 818h5v1h-5zM1029 819h4v1h-4zM1030 820h3v1h-3zM1030 821h2v1h-2zM1031 822h1v1h-1zM1037 801h7v1h-7zM1038 802h6v1h-6zM1039 803h5v1h-5zM1039 804h4v1h-4zM1040 805h3v1h-3zM1040 806h2v1h-2zM1041 807h1v1h-1zM1047 779h7v1h-7zM1048 780h6v1h-6zM1049 781h5v1h-5zM1049 782h4v1h-4zM1050 783h3v1h-3zM1050 784h2v1h-2zM1051 785h1v1h-1zM1057 754h7v1h-7zM1058 755h6v1h-6zM1059 756h5v1h-5zM1059 757h4v1h-4zM1060 758h3v1h-3zM1060 759h2v1h-2zM1061 760h1v1h-1zM1067 707h7v1h-7zM1068 708h6v1h-6zM1069 709h5v1h-5zM1069 710h4v1h-4zM1070 711h3v1h-3zM1070 712h2v1h-2zM1071 713h1v1h-1zM1078 639h7v1h-7zM1079 640h6v1h-6zM1080 641h5v1h-5zM1080 642h4v1h-4zM1081 643h3v1h-3zM1081 644h2v1h-2zM1082 645h1v1h-1zM1088 519h7v1h-7zM1089 520h6v1h-6zM1090 521h5v1h-5zM1090 522h4v1h-4zM1091 523h3v1h-3zM1091 524h2v1h-2zM1092 525h1v1h-1zM1098 372h7v1h-7zM1099 373h6v1h-6zM1100 374h5v1h-5zM1100 375h4v1h-4zM1101 376h3v1h-3zM1101 377h2v1h-2zM1102 378h1v1h-1zM1108 165h7v1h-7zM1109 166h6v1h-6zM1110 167h5v1h-5zM1110 168h4v1h-4zM1111 169h3v1h-3zM1111 170h2v1h-2zM1112 171h1v1h-1zM1118 287h7v1h-7zM1119 288h6v1h-6zM1120 289h5v1h-5zM1120 290h4v1h-4zM1121 291h3v1h-3zM1121 292h2v1h-2zM1122 293h1v1h-1zM1129 733h7v1h-7zM1130 734h6v1h-6zM1131 735h5v1h-5zM1131 736h4v1h-4zM1132 737h3v1h-3zM1132 738h2v1h-2zM1133 739h1v1h-1zM1139 890h7v1h-7zM1140 891h6v1h-6zM1141 892h5v1h-5zM1141 893h4v1h-4zM1142 894h3v1h-3zM1142 895h2v1h-2zM1143 896h1v1h-1z" fill="#009900"/><path d="M229 896.5H232M237 896.5H240M260 896.5H263M268 896.5H271M311 896.5H314M319 896.5H322M352 896.5H355M360 896.5H363M362 896.5H365M370 896.5H373M372 896.5H375M380 896.5H383M393 896.5H396M401 896.5H404M403 896.5H406M411 896.5H414M413 896.5H416M421 896.5H424M423 896.5H426M431 896.5H434M433 896.5H436M441 896.5H444M444 896.5H447M452 896.5H455M454 896.5H457M462 896.5H465M464 896.5H467M472 896.5H475M484 896.5H487M492 896.5H495M495 896.5H498M503 896.5H506M505 896.5H508M513 896.5H516M515 896.5H518M523 896.5H526M525 896.5H528M533 896.5H536M535 896.5H538M543 896.5H546M546 896.5H549M554 896.5H557M556 896.5H559M564 896.5H567M566 896.5H569M574 896.5H577M576 896.5H579M584 896.5H587M587 896.5H590M595 896.5H598M597 896.5H600M605 896.5H608M607 896.5H610M615 896.5H618M617 896.5H620M625 896.5H628M627 896.5H630M635 896.5H638M638 896.5H641M646 896.5H649M648 896.5H651M656 896.5H659M658 896.5H661M666 896.5H669M668 896.5H671M676 896.5H679M678 896.5H681M686 896.5H689M689 896.5H692M697 896.5H700M699 896.5H702M707 896.5H710M709 896.5H712M717 896.5H720M719 896.5H722M727 896.5H730M729 896.5H732M737 896.5H740M740 896.5H743M748 896.5H751M750 896.5H753M758 896.5H761M760 893.5H763M768 893.5H771M770 892.5H773M778 892.5H781M781 892.5H784M789 892.5H792M791 892.5H794M799 892.5H802M801 892.5H804M809 892.5H812M811 892.5H814M819 892.5H822M821 891.5H824M829 891.5H832M832 891.5H835M840 891.5H843M842 891.5H845M850 891.5H853M852 891.5H855M860 891.5H863M862 890.5H865M870 890.5H873M872 888.5H875M880 888.5H883M883 886.5H886M891 886.5H894M893 887.5H896M901 887.5H904M903 885.5H906M911 885.5H914M913 885.5H916M921 885.5H924M923 880.5H926M931 880.5H934M934 877.5H937M942 877.5H945M944 873.5H947M952 873.5H955M954 869.5H957M962 869.5H965M964 863.5H967M972 863.5H975M975 860.5H978M983 860.5H986M985 855.5H988M993 855.5H996M995 847.5H998M1003 847.5H1006M1005 836.5H1008M1013 836.5H1016M1015 827.5H1018M1023 827.5H1026M1026 817.5H1029M1034 817.5H1037M1036 800.5H1039M1044 800.5H1047M1046 785.5H1049M1054 785.5H1057M1056 754.5H1059M1064 754.5H1067M1066 707.5H1069M1074 707.5H1077M1077 646.5H1080M1085 646.5H1088M1082.5 642V644M1082.5 649V651M1087 526.5H1090M1095 526.5H1098M1092.5 521V524M1092.5 529V532M1097 380.5H1100M1105 380.5H1108M1102.5 375V378M1102.5 383V386M1107 183.5H1110M1115 183.5H1118M1112.5 177V181M1112.5 186V190M1117 284.5H1120M1125 284.5H1128M1122.5 278V282M1122.5 287V291M1128 752.5H1131M1136 752.5H1139M1138 891.5H1141M1146 891.5H1149" stroke="#990099" stroke-width="1" fill="none"/><path d="M230 892h6v1h-6zM230 893h6v1h-6zM230 894h6v1h-6zM230 895h6v1h-6zM230 896h6v1h-6zM230 897h6v1h-6zM261 892h6v1h-6zM261 893h6v1h-6zM261 894h6v1h-6zM261 895h6v1h-6zM261 896h6v1h-6zM261 897h6v1h-6zM312 892h6v1h-6zM312 893h6v1h-6zM312 894h6v1h-6zM312 895h6v1h-6zM312 896h6v1h-6zM312 897h6v1h-6zM353 892h6v1h-6zM353 893h6v1h-6zM353 894h6v1h-6zM353 895h6v1h-6zM353 896h6v1h-6zM353 897h6v1h-6zM363 892h6v1h-6zM363 893h6v1h-6zM363 894h6v1h-6zM363 895h6v1h-6zM363 896h6v1h-6zM363 897h6v1h-6zM373 892h6v1h-6zM373 893h6v1h-6zM373 894h6v1h-6zM373 895h6v1h-6zM373 896h6v1h-6zM373 897h6v1h-6zM394 892h6v1h-6zM394 893h6v1h-6zM394 894h6v1h-6zM394 895h6v1h-6zM394 896h6v1h-6zM394 897h6v1h-6zM404 892h6v1h-6zM404 893h6v1h-6zM404 894h6v1h-6zM404 895h6v1h-6zM404 896h6v1h-6zM404 897h6v1h-6zM414 892h6v1h-6zM414 893h6v1h-6zM414 894h6v1h-6zM414 895h6v1h-6zM414 896h6v1h-6zM414 897h6v1h-6zM424 892h6v1h-6zM424 893h6v1h-6zM424 894h6v1h-6zM424 895h6v1h-6zM424 896h6v1h-6zM424 897h6v1h-6zM434 892h6v1h-6zM434 893h6v1h-6zM434 894h6v1h-6zM434 895h6v1h-6zM434 896h6v1h-6zM434 897h6v1h-6zM445 892h6v1h-6zM445 893h6v1h-6zM445 894h6v1h-6zM445 895h6v1h-6zM445 896h6v1h-6zM445 897h6v1h-6zM455 892h6v1h-6zM455 893h6v1h-6zM455 894h6v1h-6zM455 895h6v1h-6zM455 896h6v1h-6zM455 897h6v1h-6zM465 892h6v1h-6zM465 893h6v1h-6zM465 894h6v1h-6zM465 895h6v1h-6zM465 896h6v1h-6zM465 897h6v1h-6zM485 892h6v1h-6zM485 893h6v1h-6zM485 894h6v1h-6zM485 895h6v1h-6zM485 896h6v1h-6zM485 897h6v1h-6zM496 892h6v1h-6zM496 893h6v1h-6zM496 894h6v1h-6zM496 895h6v1h-6zM496 896h6v1h-6zM496 897h6v1h-6zM506 892h6v1h-6zM506 893h6v1h-6zM506 894h6v1h-6zM506 895h6v1h-6zM506 896h6v1h-6zM506 897h6v1h-6zM516 892h6v1h-6zM516 893h6v1h-6zM516 894h6v1h-6zM516 895h6v1h-6zM516 896h6v1h-6zM516 897h6v1h-6zM526 892h6v1h-6zM526 893h6v1h-6zM526 894h6v1h-6zM526 895h6v1h-6zM526 896h6v1h-6zM526 897h6v1h-6zM536 892h6v1h-6zM536 893h6v1h-6zM536 894h6v1h-6zM536 895h6v1h-6zM536 896h6v1h-6zM536 897h6v1h-6zM547 892h6v1h-6zM547 893h6v1h-6zM547 894h6v1h-6zM547 895h6v1h-6zM547 896h6v1h-6zM547 897h6v1h-6zM557 892h6v1h-6zM557 893h6v1h-6zM557 894h6v1h-6zM557 895h6v1h-6zM557 896h6v1h-6zM557 897h6v1h-6zM567 892h6v1h-6zM567 893h6v1h-6zM567 894h6v1h-6zM567 895h6v1h-6zM567 896h6v1h-6zM567 897h6v1h-6zM577 892h6v1h-6zM577 893h6v1h-6zM577 894h6v1h-6zM577 895h6v1h-6zM577 896h6v1h-6zM577 897h6v1h-6zM588 892h6v1h-6zM588 893h6v1h-6zM588 894h6v1h-6zM588 895h6v1h-6zM588 896h6v1h-6zM588 897h6v1h-6zM598 892h6v1h-6zM598 893h6v1h-6zM598 894h6v1h-6zM598 895h6v1h-6zM598 896h6v1h-6zM598 897h6v1h-6zM608 892h6v1h-6zM608 893h6v1h-6zM608 894h6v1h-6zM608 895h6v1h-6zM608 896h6v1h-6zM608 897h6v1h-6zM618 892h6v1h-6zM618 893h6v1h-6zM618 894h6v1h-6zM618 895h6v1h-6zM618 896h6v1h-6zM618 897h6v1h-6zM628 892h6v1h-6zM628 893h6v1h-6zM628 894h6v1h-6zM628 895h6v1h-6zM628 896h6v1h-6zM628 897h6v1h-6zM639 892h6v1h-6zM639 893h6v1h-6zM639 894h6v1h-6zM639 895h6v1h-6zM639 896h6v1h-6zM639 897h6v1h-6zM649 892h6v1h-6zM649 893h6v1h-6zM649 894h6v1h-6zM649 895h6v1h-6zM649 896h6v1h-6zM649 897h6v1h-6zM659 892h6v1h-6zM659 893h6v1h-6zM659 894h6v1h-6zM659 895h6v1h-6zM659 896h6v1h-6zM659 897h6v1h-6zM669 892h6v1h-6zM669 893h6v1h-6zM669 894h6v1h-6zM669 895h6v1h-6zM669 896h6v1h-6zM669 897h6v1h-6zM679 892h6v1h-6zM679 893h6v1h-6zM679 894h6v1h-6zM679 895h6v1h-6zM679 896h6v1h-6zM679 897h6v1h-6zM690 892h6v1h-6zM690 893h6v1h-6zM690 894h6v1h-6zM690 895h6v1h-6zM690 896h6v1h-6zM690 897h6v1h-6zM700 892h6v1h-6zM700 893h6v1h-6zM700 894h6v1h-6zM700 895h6v1h-6zM700 896h6v1h-6zM700 897h6v1h-6zM710 892h6v1h-6zM710 893h6v1h-6zM710 894h6v1h-6zM710 895h6v1h-6zM710 896h6v1h-6zM710 897h6v1h-6zM720 892h6v1h-6zM720 893h6v1h-6zM720 894h6v1h-6zM720 895h6v1h-6zM720 896h6v1h-6zM720 897h6v1h-6zM730 892h6v1h-6zM730 893h6v1h-6zM730 894h6v1h-6zM730 895h6v1h-6zM730 896h6v1h-6zM730 897h6v1h-6zM741 892h6v1h-6zM741 893h6v1h-6zM741 894h6v1h-6zM741 895h6v1h-6zM741 896h6v1h-6zM741 897h6v1h-6zM751 892h6v1h-6zM751 893h6v1h-6zM751 894h6v1h-6zM751 895h6v1h-6zM751 896h6v1h-6zM751 897h6v1h-6zM761 889h6v1h-6zM761 890h6v1h-6zM761 891h6v1h-6zM761 892h6v1h-6zM761 893h6v1h-6zM761 894h6v1h-6zM771 888h6v1h-6zM771 889h6v1h-6zM771 890h6v1h-6zM771 891h6v1h-6zM771 892h6v1h-6zM771 893h6v1h-6zM782 888h6v1h-6zM782 889h6v1h-6zM782 890h6v1h-6zM782 891h6v1h-6zM782 892h6v1h-6zM782 893h6v1h-6zM792 888h6v1h-6zM792 889h6v1h-6zM792 890h6v1h-6zM792 891h6v1h-6zM792 892h6v1h-6zM792 893h6v1h-6zM802 888h6v1h-6zM802 889h6v1h-6zM802 890h6v1h-6zM802 891h6v1h-6zM802 892h6v1h-6zM802 893h6v1h-6zM812 888h6v1h-6zM812 889h6v1h-6zM812 890h6v1h-6zM812 891h6v1h-6zM812 892h6v1h-6zM812 893h6v1h-6zM822 887h6v1h-6zM822 888h6v1h-6zM822 889h6v1h-6zM822 890h6v1h-6zM822 891h6v1h-6zM822 892h6v1h-6zM833 887h6v1h-6zM833 888h6v1h-6zM833 889h6v1h-6zM833 890h6v1h-6zM833 891h6v1h-6zM833 892h6v1h-6zM843 887h6v1h-6zM843 888h6v1h-6zM843 889h6v1h-6zM843 890h6v1h-6zM843 891h6v1h-6zM843 892h6v1h-6zM853 887h6v1h-6zM853 888h6v1h-6zM853 889h6v1h-6zM853 890h6v1h-6zM853 891h6v1h-6zM853 892h6v1h-6zM863 886h6v1h-6zM863 887h6v1h-6zM863 888h6v1h-6zM863 889h6v1h-6zM863 890h6v1h-6zM863 891h6v1h-6zM873 884h6v1h-6zM873 885h6v1h-6zM873 886h6v1h-6zM873 887h6v1h-6zM873 888h6v1h-6zM873 889h6v1h-6zM884 882h6v1h-6zM884 883h6v1h-6zM884 884h6v1h-6zM884 885h6v1h-6zM884 886h6v1h-6zM884 887h6v1h-6zM894 883h6v1h-6zM894 884h6v1h-6zM894 885h6v1h-6zM894 886h6v1h-6zM894 887h6v1h-6zM894 888h6v1h-6zM904 881h6v1h-6zM904 882h6v1h-6zM904 883h6v1h-6zM904 884h6v1h-6zM904 885h6v1h-6zM904 886h6v1h-6zM914 881h6v1h-6zM914 882h6v1h-6zM914 883h6v1h-6zM914 884h6v1h-6zM914 885h6v1h-6zM914 886h6v1h-6zM924 876h6v1h-6zM924 877h6v1h-6zM924 878h6v1h-6zM924 879h6v1h-6zM924 880h6v1h-6zM924 881h6v1h-6zM935 873h6v1h-6zM935 874h6v1h-6zM935 875h6v1h-6zM935 876h6v1h-6zM935 877h6v1h-6zM935 878h6v1h-6zM945 869h6v1h-6zM945 870h6v1h-6zM945 871h6v1h-6zM945 872h6v1h-6zM945 873h6v1h-6zM945 874h6v1h-6zM955 865h6v1h-6zM955 866h6v1h-6zM955 867h6v1h-6zM955 868h6v1h-6zM955 869h6v1h-6zM955 870h6v1h-6zM965 859h6v1h-6zM965 860h6v1h-6zM965 861h6v1h-6zM965 862h6v1h-6zM965 863h6v1h-6zM965 864h6v1h-6zM976 856h6v1h-6zM976 857h6v1h-6zM976 858h6v1h-6zM976 859h6v1h-6zM976 860h6v1h-6zM976 861h6v1h-6zM986 851h6v1h-6zM986 852h6v1h-6zM986 853h6v1h-6zM986 854h6v1h-6zM986 855h6v1h-6zM986 856h6v1h-6zM996 843h6v1h-6zM996 844h6v1h-6zM996 845h6v1h-6zM996 846h6v1h-6zM996 847h6v1h-6zM996 848h6v1h-6zM1006 832h6v1h-6zM1006 833h6v1h-6zM1006 834h6v1h-6zM1006 835h6v1h-6zM1006 836h6v1h-6zM1006 837h6v1h-6zM1016 823h6v1h-6zM1016 824h6v1h-6zM1016 825h6v1h-6zM1016 826h6v1h-6zM1016 827h6v1h-6zM1016 828h6v1h-6zM1027 813h6v1h-6zM1027 814h6v1h-6zM1027 815h6v1h-6zM1027 816h6v1h-6zM1027 817h6v1h-6zM1027 818h6v1h-6zM1037 796h6v1h-6zM1037 797h6v1h-6zM1037 798h6v1h-6zM1037 799h6v1h-6zM1037 800h6v1h-6zM1037 801h6v1h-6zM1047 781h6v1h-6zM1047 782h6v1h-6zM1047 783h6v1h-6zM1047 784h6v1h-6zM1047 785h6v1h-6zM1047 786h6v1h-6zM1057 750h6v1h-6zM1057 751h6v1h-6zM1057 752h6v1h-6zM1057 753h6v1h-6zM1057 754h6v1h-6zM1057 755h6v1h-6zM1067 703h6v1h-6zM1067 704h6v1h-6zM1067 705h6v1h-6zM1067 706h6v1h-6zM1067 707h6v1h-6zM1067 708h6v1h-6zM1078 642h6v1h-6zM1078 643h6v1h-6zM1078 644h6v1h-6zM1078 645h6v1h-6zM1078 646h6v1h-6zM1078 647h6v1h-6zM1088 522h6v1h-6zM1088 523h6v1h-6zM1088 524h6v1h-6zM1088 525h6v1h-6zM1088 526h6v1h-6zM1088 527h6v1h-6zM1098 376h6v1h-6zM1098 377h6v1h-6zM1098 378h6v1h-6zM1098 379h6v1h-6zM1098 380h6v1h-6zM1098 381h6v1h-6zM1108 179h6v1h-6zM1108 180h6v1h-6zM1108 181h6v1h-6zM1108 182h6v1h-6zM1108 183h6v1h-6zM1108 184h6v1h-6zM1118 280h6v1h-6zM1118 281h6v1h-6zM1118 282h6v1h-6zM1118 283h6v1h-6zM1118 284h6v1h-6zM1118 285h6v1h-6zM1129 748h6v1h-6zM1129 749h6v1h-6zM1129 750h6v1h-6zM1129 751h6v1h-6zM1129 752h6v1h-6zM1129 753h6v1h-6zM1139 887h6v1h-6zM1139 888h6v1h-6zM1139 889h6v1h-6zM1139 890h6v1h-6zM1139 891h6v1h-6zM1139 892h6v1h-6z" fill="#990099"/><path d="M505 895.5H508M513 895.5H516M617 895.5H620M625 895.5H628M689 895.5H692M697 895.5H700M699 895.5H702M707 895.5H710M709 895.5H712M717 895.5H720M719 895.5H722M727 895.5H730M729 895.5H732M737 895.5H740M740 895.5H743M748 895.5H751M750 895.5H753M758 895.5H761M760 895.5H763M768 895.5H771M770 895.5H773M778 895.5H781M781 895.5H784M789 895.5H792M791 895.5H794M799 895.5H802M801 895.5H804M809 895.5H812M811 895.5H814M819 895.5H822M821 895.5H824M829 895.5H832M832 895.5H835M840 895.5H843M842 895.5H845M850 895.5H853M852 895.5H855M860 895.5H863M862 895.5H865M870 895.5H873M872 895.5H875M880 895.5H883M883 891.5H886M891 891.5H894M888.5 888V889M888.5 894V895M893 886.5H896M901 886.5H904M898.5 882V884M898.5 889V891M903 887.5H906M911 887.5H914M908.5 883V885M908.5 890V892M913 886.5H916M921 886.5H924M918.5 882V884M918.5 889V891M923 881.5H926M931 881.5H934M928.5 877V879M928.5 884V886M934 879.5H937M942 879.5H945M939.5 875V877M939.5 882V884M944 873.5H947M952 873.5H955M949.5 869V871M949.5 876V878M954 872.5H957M962 872.5H965M959.5 868V870M959.5 875V877M964 867.5H967M972 867.5H975M969.5 862V865M969.5 870V873M975 857.5H978M983 857.5H986M980.5 852V855M980.5 860V863M985 847.5H988M993 847.5H996M990.5 842V845M990.5 850V853M995 831.5H998M1003 831.5H1006M1000.5 827V829M1000.5 834V836M1005 826.5H1008M1013 826.5H1016M1010.5 819V824M1010.5 829V834M1015 816.5H1018M1023 816.5H1026M1020.5 810V814M1020.5 819V823M1026 810.5H1029M1034 810.5H1037M1031.5 804V808M1031.5 813V817M1036 779.5H1039M1044 779.5H1047M1041.5 771V777M1041.5 782V788M1046 760.5H1049M1054 760.5H1057M1051.5 754V758M1051.5 763V767M1056 728.5H1059M1064 728.5H1067M1061.5 720V726M1061.5 731V737M1066 668.5H1069M1074 668.5H1077M1071.5 661V666M1071.5 671V676M1077 626.5H1080M1085 626.5H1088M1082.5 615V624M1082.5 629V638M1087 512.5H1090M1095 512.5H1098M1092.5 498V510M1092.5 515V527M1097 370.5H1100M1105 370.5H1108M1102.5 354V368M1102.5 373V387M1107 232.5H1110M1115 232.5H1118M1112.5 215V230M1112.5 235V250M1117 395.5H1120M1125 395.5H1128M1122.5 379V393M1122.5 398V412M1128 788.5H1131M1136 788.5H1139M1133.5 783V786M1133.5 791V794" stroke="#ff0000" stroke-width="1" fill="none"/><path d="M510 892h1v1h-1zM509 893h2v1h-2zM509 894h3v1h-3zM508 895h4v1h-4zM508 896h5v1h-5zM507 897h6v1h-6zM622 892h1v1h-1zM621 893h2v1h-2zM621 894h3v1h-3zM620 895h4v1h-4zM620 896h5v1h-5zM619 897h6v1h-6zM694 892h1v1h-1zM693 893h2v1h-2zM693 894h3v1h-3zM692 895h4v1h-4zM692 896h5v1h-5zM691 897h6v1h-6zM704 892h1v1h-1zM703 893h2v1h-2zM703 894h3v1h-3zM702 895h4v1h-4zM702 896h5v1h-5zM701 897h6v1h-6zM714 892h1v1h-1zM713 893h2v1h-2zM713 894h3v1h-3zM712 895h4v1h-4zM712 896h5v1h-5zM711 897h6v1h-6zM724 892h1v1h-1zM723 893h2v1h-2zM723 894h3v1h-3zM722 895h4v1h-4zM722 896h5v1h-5zM721 897h6v1h-6zM734 892h1v1h-1zM733 893h2v1h-2zM733 894h3v1h-3zM732 895h4v1h-4zM732 896h5v1h-5zM731 897h6v1h-6zM745 892h1v1h-1zM744 893h2v1h-2zM744 894h3v1h-3zM743 895h4v1h-4zM743 896h5v1h-5zM742 897h6v1h-6zM755 892h1v1h-1zM754 893h2v1h-2zM754 894h3v1h-3zM753 895h4v1h-4zM753 896h5v1h-5zM752 897h6v1h-6zM765 892h1v1h-1zM764 893h2v1h-2zM764 894h3v1h-3zM763 895h4v1h-4zM763 896h5v1h-5zM762 897h6v1h-6zM775 892h1v1h-1zM774 893h2v1h-2zM774 894h3v1h-3zM773 895h4v1h-4zM773 896h5v1h-5zM772 897h6v1h-6zM786 892h1v1h-1zM785 893h2v1h-2zM785 894h3v1h-3zM784 895h4v1h-4zM784 896h5v1h-5zM783 897h6v1h-6zM796 892h1v1h-1zM795 893h2v1h-2zM795 894h3v1h-3zM794 895h4v1h-4zM794 896h5v1h-5zM793 897h6v1h-6zM806 892h1v1h-1zM805 893h2v1h-2zM805 894h3v1h-3zM804 895h4v1h-4zM804 896h5v1h-5zM803 897h6v1h-6zM816 892h1v1h-1zM815 893h2v1h-2zM815 894h3v1h-3zM814 895h4v1h-4zM814 896h5v1h-5zM813 897h6v1h-6zM826 892h1v1h-1zM825 893h2v1h-2zM825 894h3v1h-3zM824 895h4v1h-4zM824 896h5v1h-5zM823 897h6v1h-6zM837 892h1v1h-1zM836 893h2v1h-2zM836 894h3v1h-3zM835 895h4v1h-4zM835 896h5v1h-5zM834 897h6v1h-6zM847 892h1v1h-1zM846 893h2v1h-2zM846 894h3v1h-3zM845 895h4v1h-4zM845 896h5v1h-5zM844 897h6v1h-6zM857 892h1v1h-1zM856 893h2v1h-2zM856 894h3v1h-3zM855 895h4v1h-4zM855 896h5v1h-5zM854 897h6v1h-6zM867 892h1v1h-1zM866 893h2v1h-2zM866 894h3v1h-3zM865 895h4v1h-4zM865 896h5v1h-5zM864 897h6v1h-6zM877 892h1v1h-1zM876 893h2v1h-2zM876 894h3v1h-3zM875 895h4v1h-4zM875 896h5v1h-5zM874 897h6v1h-6zM888 888h1v1h-1zM887 889h2v1h-2zM887 890h3v1h-3zM886 891h4v1h-4zM886 892h5v1h-5zM885 893h6v1h-6zM898 883h1v1h-1zM897 884h2v1h-2zM897 885h3v1h-3zM896 886h4v1h-4zM896 887h5v1h-5zM895 888h6v1h-6zM908 884h1v1h-1zM907 885h2v1h-2zM907 886h3v1h-3zM906 887h4v1h-4zM906 888h5v1h-5zM905 889h6v1h-6zM918 883h1v1h-1zM917 884h2v1h-2zM917 885h3v1h-3zM916 886h4v1h-4zM916 887h5v1h-5zM915 888h6v1h-6zM928 878h1v1h-1zM927 879h2v1h-2zM927 880h3v1h-3zM926 881h4v1h-4zM926 882h5v1h-5zM925 883h6v1h-6zM939 876h1v1h-1zM938 877h2v1h-2zM938 878h3v1h-3zM937 879h4v1h-4zM937 880h5v1h-5zM936 881h6v1h-6zM949 870h1v1h-1zM948 871h2v1h-2zM948 872h3v1h-3zM947 873h4v1h-4zM947 874h5v1h-5zM946 875h6v1h-6zM959 869h1v1h-1zM958 870h2v1h-2zM958 871h3v1h-3zM957 872h4v1h-4zM957 873h5v1h-5zM956 874h6v1h-6zM969 864h1v1h-1zM968 865h2v1h-2zM968 866h3v1h-3zM967 867h4v1h-4zM967 868h5v1h-5zM966 869h6v1h-6zM980 854h1v1h-1zM979 855h2v1h-2zM979 856h3v1h-3zM978 857h4v1h-4zM978 858h5v1h-5zM977 859h6v1h-6zM990 844h1v1h-1zM989 845h2v1h-2zM989 846h3v1h-3zM988 847h4v1h-4zM988 848h5v1h-5zM987 849h6v1h-6zM1000 828h1v1h-1zM999 829h2v1h-2zM999 830h3v1h-3zM998 831h4v1h-4zM998 832h5v1h-5zM997 833h6v1h-6zM1010 823h1v1h-1zM1009 824h2v1h-2zM1009 825h3v1h-3zM1008 826h4v1h-4zM1008 827h5v1h-5zM1007 828h6v1h-6zM1020 813h1v1h-1zM1019 814h2v1h-2zM1019 815h3v1h-3zM1018 816h4v1h-4zM1018 817h5v1h-5zM1017 818h6v1h-6zM1031 807h1v1h-1zM1030 808h2v1h-2zM1030 809h3v1h-3zM1029 810h4v1h-4zM1029 811h5v1h-5zM1028 812h6v1h-6zM1041 776h1v1h-1zM1040 777h2v1h-2zM1040 778h3v1h-3zM1039 779h4v1h-4zM1039 780h5v1h-5zM1038 781h6v1h-6zM1051 757h1v1h-1zM1050 758h2v1h-2zM1050 759h3v1h-3zM1049 760h4v1h-4zM1049 761h5v1h-5zM1048 762h6v1h-6zM1061 725h1v1h-1zM1060 726h2v1h-2zM1060 727h3v1h-3zM1059 728h4v1h-4zM1059 729h5v1h-5zM1058 730h6v1h-6zM1071 665h1v1h-1zM1070 666h2v1h-2zM1070 667h3v1h-3zM1069 668h4v1h-4zM1069 669h5v1h-5zM1068 670h6v1h-6zM1082 623h1v1h-1zM1081 624h2v1h-2zM1081 625h3v1h-3zM1080 626h4v1h-4zM1080 627h5v1h-5zM1079 628h6v1h-6zM1092 509h1v1h-1zM1091 510h2v1h-2zM1091 511h3v1h-3zM1090 512h4v1h-4zM1090 513h5v1h-5zM1089 514h6v1h-6zM1102 367h1v1h-1zM1101 368h2v1h-2zM1101 369h3v1h-3zM1100 370h4v1h-4zM1100 371h5v1h-5zM1099 372h6v1h-6zM1112 229h1v1h-1zM1111 230h2v1h-2zM1111 231h3v1h-3zM1110 232h4v1h-4zM1110 233h5v1h-5zM1109 234h6v1h-6zM1122 392h1v1h-1zM1121 393h2v1h-2zM1121 394h3v1h-3zM1120 395h4v1h-4zM1120 396h5v1h-5zM1119 397h6v1h-6zM1133 785h1v1h-1zM1132 786h2v1h-2zM1132 787h3v1h-3zM1131 788h4v1h-4zM1131 789h5v1h-5zM1130 790h6v1h-6z" fill="#ff0000"/><path d="M352 896.5H355M360 896.5H363M393 896.5H396M401 896.5H404M403 896.5H406M411 896.5H414M413 896.5H416M421 896.5H424M423 896.5H426M431 896.5H434M444 896.5H447M452 896.5H455M454 896.5H457M462 896.5H465M464 896.5H467M472 896.5H475M495 896.5H498M503 896.5H506M515 896.5H518M523 896.5H526M525 896.5H528M533 896.5H536M535 896.5H538M543 896.5H546M546 896.5H549M554 896.5H557M556 896.5H559M564 896.5H567M566 896.5H569M574 896.5H577M576 896.5H579M584 896.5H587M587 896.5H590M595 896.5H598M597 896.5H600M605 896.5H608M607 896.5H610M615 896.5H618M617 896.5H620M625 896.5H628M627 896.5H630M635 896.5H638M638 896.5H641M646 896.5H649M648 896.5H651M656 896.5H659M658 896.5H661M666 896.5H669M668 896.5H671M676 896.5H679M678 896.5H681M686 896.5H689M689 896.5H692M697 896.5H700M699 896.5H702M707 896.5H710M709 896.5H712M717 896.5H720M719 896.5H722M727 896.5H730M729 896.5H732M737 896.5H740M740 896.5H743M748 896.5H751M750 896.5H753M758 896.5H761M760 895.5H763M768 895.5H771M770 894.5H773M778 894.5H781M781 894.5H784M789 894.5H792M791 893.5H794M799 893.5H802M801 893.5H804M809 893.5H812M811 893.5H814M819 893.5H822M821 892.5H824M829 892.5H832M832 891.5H835M840 891.5H843M842 892.5H845M850 892.5H853M852 890.5H855M860 890.5H863M862 890.5H865M870 890.5H873M872 890.5H875M880 890.5H883M883 887.5H886M891 887.5H894M893 886.5H896M901 886.5H904M903 884.5H906M911 884.5H914M913 878.5H916M921 878.5H924M923 876.5H926M931 876.5H934M934 872.5H937M942 872.5H945M944 868.5H947M952 868.5H955M954 863.5H957M962 863.5H965M964 851.5H967M972 851.5H975M975 845.5H978M983 845.5H986M985 834.5H988M993 834.5H996M995 826.5H998M1003 826.5H1006M1005 814.5H1008M1013 814.5H1016M1015 798.5H1018M1023 798.5H1026M1026 790.5H1029M1034 790.5H1037M1036 771.5H1039M1044 771.5H1047M1041.5 767V769M1041.5 774V776M1046 754.5H1049M1054 754.5H1057M1051.5 750V752M1051.5 757V759M1056 724.5H1059M1064 724.5H1067M1061.5 720V722M1061.5 727V729M1066 690.5H1069M1074 690.5H1077M1071.5 686V688M1071.5 693V695M1077 629.5H1080M1085 629.5H1088M1082.5 625V627M1082.5 632V634M1087 534.5H1090M1095 534.5H1098M1092.5 529V532M1092.5 537V540M1097 415.5H1100M1105 415.5H1108M1102.5 409V413M1102.5 418V422M1107 276.5H1110M1115 276.5H1118M1112.5 270V274M1112.5 279V283M1117 432.5H1120M1125 432.5H1128M1122.5 426V430M1122.5 435V439M1128 779.5H1131M1136 779.5H1139M1133.5 775V777M1133.5 782V784M1138 893.5H1141M1146 893.5H1149" stroke="#0000ff" stroke-width="1" fill="none"/><g fill="#0000ff" shape-rendering="auto"><path transform="translate(357.5 896.5)" d="M3.75 0.00L3.67 0.55L3.42 1.21L3.02 1.88L2.49 2.49L1.88 3.02L1.21 3.42L0.55 3.67L0.00 3.75L-0.55 3.67L-1.21 3.42L-1.88 3.02L-2.49 2.49L-3.02 1.88L-3.42 1.21L-3.67 0.55L-3.75 0.00L-3.67 -0.55L-3.42 -1.21L-3.02 -1.88L-2.49 -2.49L-1.88 -3.02L-1.21 -3.42L-0.55 -3.67L-0.00 -3.75L0.55 -3.67L1.21 -3.42L1.88 -3.02L2.49 -2.49L3.02 -1.88L3.42 -1.21L3.67 -0.55Z"/><path transform="translate(398.5 896.5)" d="M3.75 0.00L3.67 0.55L3.42 1.21L3.02 1.88L2.49 2.49L1.88 3.02L1.21 3.42L0.55 3.67L0.00 3.75L-0.55 3.67L-1.21 3.42L-1.88 3.02L-2.49 2.49L-3.02 1.88L-3.42 1.21L-3.67 0.55L-3.75 0.00L-3.67 -0.55L-3.42 -1.21L-3.02 -1.88L-2.49 -2.49L-1.88 -3.02L-1.21 -3.42L-0.55 -3.67L-0.00 -3.75L0.55 -3.67L1.21 -3.42L1.88 -3.02L2.49 -2.49L3.02 -1.88L3.42 -1.21L3.67 -0.55Z"/><path transform="translate(408.5 896.5)" d="M3.75 0.00L3.67 0.55L3.42 1.21L3.02 1.88L2.49 2.49L1.88 3.02L1.21 3.42L0.55 3.67L0.00 3.75L-0.55 3.67L-1.21 3.42L-1.88 3.02L-2.49 2.49L-3.02 1.88L-3.42 1.21L-3.67 0.55L-3.75 0.00L-3.67 -0.55L-3.42 -1.21L-3.02 -1.88L-2.49 -2.49L-1.88 -3.02L-1.21 -3.42L-0.55 -3.67L-0.00 -3.75L0.55 -3.67L1.21 -3.42L1.88 -3.02L2.49 -2.49L3.02 -1.88L3.42 -1.21L3.67 -0.55Z"/><path transform="translate(418.5 896.5)" d="M3.75 0.00L3.67 0.55L3.42 1.21L3.02 1.88L2.49 2.49L1.88 3.02L1.21 3.42L0.55 3.67L0.00 3.75L-0.55 3.67L-1.21 3.42L-1.88 3.02L-2.49 2.49L-3.02 1.88L-3.42 1.21L-3.67 0.55L-3.75 0.00L-3.67 -0.55L-3.42 -1.21L-3.02 -1.88L-2.49 -2.49L-1.88 -3.02L-1.21 -3.42L-0.55 -3.67L-0.00 -3.75L0.55 -3.67L1.21 -3.42L1.88 -3.02L2.49 -2.49L3.02 -1.88L3.42 -1.21L3.67 -0.55Z"/><path transform="translate(428.5 896.5)" d="M3.75 0.00L3.67 0.55L3.42 1.21L3.02 1.88L2.49 2.49L1.88 3.02L1.21 3.42L0.55 3.67L0.00 3.75L-0.55 3.67L-1.21 3.42L-1.88 3.02L-2.49 2.49L-3.02 1.88L-3.42 1.21L-3.67 0.55L-3.75 0.00L-3.67 -0.55L-3.42 -1.21L-3.02 -1.88L-2.49 -2.49L-1.88 -3.02L-1.21 -3.42L-0.55 -3.67L-0.00 -3.75L0.55 -3.67L1.21 -3.42L1.88 -3.02L2.49 -2.49L3.02 -1.88L3.42 -1.21L3.67 -0.55Z"/><path transform="translate(449.5 896.5)" d="M3.75 0.00L3.67 0.55L3.42 1.21L3.02 1.88L2.49 2.49L1.88 3.02L1.21 3.42L0.55 3.67L0.00 3.75L-0.55 3.67L-1.21 3.42L-1.88 3.02L-2.49 2.49L-3.02 1.88L-3.42 1.21L-3.67 0.55L-3.75 0.00L-3.67 -0.55L-3.42 -1.21L-3.02 -1.88L-2.49 -2.49L-1.88 -3.02L-1.21 -3.42L-0.55 -3.67L-0.00 -3.75L0.55 -3.67L1.21 -3.42L1.88 -3.02L2.49 -2.49L3.02 -1.88L3.42 -1.21L3.67 -0.55Z"/><path transform="translate(459.5 896.5)" d="M3.75 0.00L3.67 0.55L3.42 1.21L3.02 1.88L2.49 2.49L1.88 3.02L1.21 3.42L0.55 3.67L0.00 3.75L-0.55 3.67L-1.21 3.42L-1.88 3.02L-2.49 2.49L-3.02 1.88L-3.42 1.21L-3.67 0.55L-3.75 0.00L-3.67 -0.55L-3.42 -1.21L-3.02 -1.88L-2.49 -2.49L-1.88 -3.02L-1.21 -3.42L-0.55 -3.67L-0.00 -3.75L0.55 -3.67L1.21 -3.42L1.88 -3.02L2.49 -2.49L3.02 -1.88L3.42 -1.21L3.67 -0.55Z"/><path transform="translate(469.5 896.5)" d="M3.75 0.00L3.67 0.55L3.42 1.21L3.02 1.88L2.49 2.49L1.88 3.02L1.21 3.42L0.55 3.67L0.00 3.75L-0.55 3.67L-1.21 3.42L-1.88 3.02L-2.49 2.49L-3.02 1.88L-3.42 1.21L-3.67 0.55L-3.75 0.00L-3.67 -0.55L-3.42 -1.21L-3.02 -1.88L-2.49 -2.49L-1.88 -3.02L-1.21 -3.42L-0.55 -3.67L-0.00 -3.75L0.55 -3.67L1.21 -3.42L1.88 -3.02L2.49 -2.49L3.02 -1.88L3.42 -1.21L3.67 -0.55Z"/><path transform="translate(500.5 896.5)" d="M3.75 0.00L3.67 0.55L3.42 1.21L3.02 1.88L2.49 2.49L1.88 3.02L1.21 3.42L0.55 3.67L0.00 3.75L-0.55 3.67L-1.21 3.42L-1.88 3.02L-2.49 2.49L-3.02 1.88L-3.42 1.21L-3.67 0.55L-3.75 0.00L-3.67 -0.55L-3.42 -1.21L-3.02 -1.88L-2.49 -2.49L-1.88 -3.02L-1.21 -3.42L-0.55 -3.67L-0.00 -3.75L0.55 -3.67L1.21 -3.42L1.88 -3.02L2.49 -2.49L3.02 -1.88L3.42 -1.21L3.67 -0.55Z"/><path transform="translate(520.5 896.5)" d="M3.75 0.00L3.67 0.55L3.42 1.21L3.02 1.88L2.49 2.49L1.88 3.02L1.21 3.42L0.55 3.67L0.00 3.75L-0.55 3.67L-1.21 3.42L-1.88 3.02L-2.49 2.49L-3.02 1.88L-3.42 1.21L-3.67 0.55L-3.75 0.00L-3.67 -0.55L-3.42 -1.21L-3.02 -1.88L-2.49 -2.49L-1.88 -3.02L-1.21 -3.42L-0.55 -3.67L-0.00 -3.75L0.55 -3.67L1.21 -3.42L1.88 -3.02L2.49 -2.49L3.02 -1.88L3.42 -1.21L3.67 -0.55Z"/><path transform="translate(530.5 896.5)" d="M3.75 0.00L3.67 0.55L3.42 1.21L3.02 1.88L2.49 2.49L1.88 3.02L1.21 3.42L0.55 3.67L0.00 3.75L-0.55 3.67L-1.21 3.42L-1.88 3.02L-2.49 2.49L-3.02 1.88L-3.42 1.21L-3.67 0.55L-3.75 0.00L-3.67 -0.55L-3.42 -1.21L-3.02 -1.88L-2.49 -2.49L-1.88 -3.02L-1.21 -3.42L-0.55 -3.67L-0.00 -3.75L0.55 -3.67L1.21 -3.42L1.88 -3.02L2.49 -2.49L3.02 -1.88L3.42 -1.21L3.67 -0.55Z"/><path transform="translate(540.5 896.5)" d="M3.75 0.00L3.67 0.55L3.42 1.21L3.02 1.88L2.49 2.49L1.88 3.02L1.21 3.42L0.55 3.67L0.00 3.75L-0.55 3.67L-1.21 3.42L-1.88 3.02L-2.49 2.49L-3.02 1.88L-3.42 1.21L-3.67 0.55L-3.75 0.00L-3.67 -0.55L-3.42 -1.21L-3.02 -1.88L-2.49 -2.49L-1.88 -3.02L-1.21 -3.42L-0.55 -3.67L-0.00 -3.75L0.55 -3.67L1.21 -3.42L1.88 -3.02L2.49 -2.49L3.02 -1.88L3.42 -1.21L3.67 -0.55Z"/><path transform="translate(551.5 896.5)" d="M3.75 0.00L3.67 0.55L3.42 1.21L3.02 1.88L2.49 2.49L1.88 3.02L1.21 3.42L0.55 3.67L0.00 3.75L-0.55 3.67L-1.21 3.42L-1.88 3.02L-2.49 2.49L-3.02 1.88L-3.42 1.21L-3.67 0.55L-3.75 0.00L-3.67 -0.55L-3.42 -1.21L-3.02 -1.88L-2.49 -2.49L-1.88 -3.02L-1.21 -3.42L-0.55 -3.67L-0.00 -3.75L0.55 -3.67L1.21 -3.42L1.88 -3.02L2.49 -2.49L3.02 -1.88L3.42 -1.21L3.67 -0.55Z"/><path transform="translate(561.5 896.5)" d="M3.75 0.00L3.67 0.55L3.42 1.21L3.02 1.88L2.49 2.49L1.88 3.02L1.21 3.42L0.55 3.67L0.00 3.75L-0.55 3.67L-1.21 3.42L-1.88 3.02L-2.49 2.49L-3.02 1.88L-3.42 1.21L-3.67 0.55L-3.75 0.00L-3.67 -0.55L-3.42 -1.21L-3.02 -1.88L-2.49 -2.49L-1.88 -3.02L-1.21 -3.42L-0.55 -3.67L-0.00 -3.75L0.55 -3.67L1.21 -3.42L1.88 -3.02L2.49 -2.49L3.02 -1.88L3.42 -1.21L3.67 -0.55Z"/><path transform="translate(571.5 896.5)" d="M3.75 0.00L3.67 0.55L3.42 1.21L3.02 1.88L2.49 2.49L1.88 3.02L1.21 3.42L0.55 3.67L0.00 3.75L-0.55 3.67L-1.21 3.42L-1.88 3.02L-2.49 2.49L-3.02 1.88L-3.42 1.21L-3.67 0.55L-3.75 0.00L-3.67 -0.55L-3.42 -1.21L-3.02 -1.88L-2.49 -2.49L-1.88 -3.02L-1.21 -3.42L-0.55 -3.67L-0.00 -3.75L0.55 -3.67L1.21 -3.42L1.88 -3.02L2.49 -2.49L3.02 -1.88L3.42 -1.21L3.67 -0.55Z"/><path transform="translate(581.5 896.5)" d="M3.75 0.00L3.67 0.55L3.42 1.21L3.02 1.88L2.49 2.49L1.88 3.02L1.21 3.42L0.55 3.67L0.00 3.75L-0.55 3.67L-1.21 3.42L-1.88 3.02L-2.49 2.49L-3.02 1.88L-3.42 1.21L-3.67 0.55L-3.75 0.00L-3.67 -0.55L-3.42 -1.21L-3.02 -1.88L-2.49 -2.49L-1.88 -3.02L-1.21 -3.42L-0.55 -3.67L-0.00 -3.75L0.55 -3.67L1.21 -3.42L1.88 -3.02L2.49 -2.49L3.02 -1.88L3.42 -1.21L3.67 -0.55Z"/><path transform="translate(592.5 896.5)" d="M3.75 0.00L3.67 0.55L3.42 1.21L3.02 1.88L2.49 2.49L1.88 3.02L1.21 3.42L0.55 3.67L0.00 3.75L-0.55 3.67L-1.21 3.42L-1.88 3.02L-2.49 2.49L-3.02 1.88L-3.42 1.21L-3.67 0.55L-3.75 0.00L-3.67 -0.55L-3.42 -1.21L-3.02 -1.88L-2.49 -2.49L-1.88 -3.02L-1.21 -3.42L-0.55 -3.67L-0.00 -3.75L0.55 -3.67L1.21 -3.42L1.88 -3.02L2.49 -2.49L3.02 -1.88L3.42 -1.21L3.67 -0.55Z"/><path transform="translate(602.5 896.5)" d="M3.75 0.00L3.67 0.55L3.42 1.21L3.02 1.88L2.49 2.49L1.88 3.02L1.21 3.42L0.55 3.67L0.00 3.75L-0.55 3.67L-1.21 3.42L-1.88 3.02L-2.49 2.49L-3.02 1.88L-3.42 1.21L-3.67 0.55L-3.75 0.00L-3.67 -0.55L-3.42 -1.21L-3.02 -1.88L-2.49 -2.49L-1.88 -3.02L-1.21 -3.42L-0.55 -3.67L-0.00 -3.75L0.55 -3.67L1.21 -3.42L1.88 -3.02L2.49 -2.49L3.02 -1.88L3.42 -1.21L3.67 -0.55Z"/><path transform="translate(612.5 896.5)" d="M3.75 0.00L3.67 0.55L3.42 1.21L3.02 1.88L2.49 2.49L1.88 3.02L1.21 3.42L0.55 3.67L0.00 3.75L-0.55 3.67L-1.21 3.42L-1.88 3.02L-2.49 2.49L-3.02 1.88L-3.42 1.21L-3.67 0.55L-3.75 0.00L-3.67 -0.55L-3.42 -1.21L-3.02 -1.88L-2.49 -2.49L-1.88 -3.02L-1.21 -3.42L-0.55 -3.67L-0.00 -3.75L0.55 -3.67L1.21 -3.42L1.88 -3.02L2.49 -2.49L3.02 -1.88L3.42 -1.21L3.67 -0.55Z"/><path transform="translate(622.5 896.5)" d="M3.75 0.00L3.67 0.55L3.42 1.21L3.02 1.88L2.49 2.49L1.88 3.02L1.21 3.42L0.55 3.67L0.00 3.75L-0.55 3.67L-1.21 3.42L-1.88 3.02L-2.49 2.49L-3.02 1.88L-3.42 1.21L-3.67 0.55L-3.75 0.00L-3.67 -0.55L-3.42 -1.21L-3.02 -1.88L-2.49 -2.49L-1.88 -3.02L-1.21 -3.42L-0.55 -3.67L-0.00 -3.75L0.55 -3.67L1.21 -3.42L1.88 -3.02L2.49 -2.49L3.02 -1.88L3.42 -1.21L3.67 -0.55Z"/><path transform="translate(632.5 896.5)" d="M3.75 0.00L3.67 0.55L3.42 1.21L3.02 1.88L2.49 2.49L1.88 3.02L1.21 3.42L0.55 3.67L0.00 3.75L-0.55 3.67L-1.21 3.42L-1.88 3.02L-2.49 2.49L-3.02 1.88L-3.42 1.21L-3.67 0.55L-3.75 0.00L-3.67 -0.55L-3.42 -1.21L-3.02 -1.88L-2.49 -2.49L-1.88 -3.02L-1.21 -3.42L-0.55 -3.67L-0.00 -3.75L0.55 -3.67L1.21 -3.42L1.88 -3.02L2.49 -2.49L3.02 -1.88L3.42 -1.21L3.67 -0.55Z"/><path transform="translate(643.5 896.5)" d="M3.75 0.00L3.67 0.55L3.42 1.21L3.02 1.88L2.49 2.49L1.88 3.02L1.21 3.42L0.55 3.67L0.00 3.75L-0.55 3.67L-1.21 3.42L-1.88 3.02L-2.49 2.49L-3.02 1.88L-3.42 1.21L-3.67 0.55L-3.75 0.00L-3.67 -0.55L-3.42 -1.21L-3.02 -1.88L-2.49 -2.49L-1.88 -3.02L-1.21 -3.42L-0.55 -3.67L-0.00 -3.75L0.55 -3.67L1.21 -3.42L1.88 -3.02L2.49 -2.49L3.02 -1.88L3.42 -1.21L3.67 -0.55Z"/><path transform="translate(653.5 896.5)" d="M3.75 0.00L3.67 0.55L3.42 1.21L3.02 1.88L2.49 2.49L1.88 3.02L1.21 3.42L0.55 3.67L0.00 3.75L-0.55 3.67L-1.21 3.42L-1.88 3.02L-2.49 2.49L-3.02 1.88L-3.42 1.21L-3.67 0.55L-3.75 0.00L-3.67 -0.55L-3.42 -1.21L-3.02 -1.88L-2.49 -2.49L-1.88 -3.02L-1.21 -3.42L-0.55 -3.67L-0.00 -3.75L0.55 -3.67L1.21 -3.42L1.88 -3.02L2.49 -2.49L3.02 -1.88L3.42 -1.21L3.67 -0.55Z"/><path transform="translate(663.5 896.5)" d="M3.75 0.00L3.67 0.55L3.42 1.21L3.02 1.88L2.49 2.49L1.88 3.02L1.21 3.42L0.55 3.67L0.00 3.75L-0.55 3.67L-1.21 3.42L-1.88 3.02L-2.49 2.49L-3.02 1.88L-3.42 1.21L-3.67 0.55L-3.75 0.00L-3.67 -0.55L-3.42 -1.21L-3.02 -1.88L-2.49 -2.49L-1.88 -3.02L-1.21 -3.42L-0.55 -3.67L-0.00 -3.75L0.55 -3.67L1.21 -3.42L1.88 -3.02L2.49 -2.49L3.02 -1.88L3.42 -1.21L3.67 -0.55Z"/><path transform="translate(673.5 896.5)" d="M3.75 0.00L3.67 0.55L3.42 1.21L3.02 1.88L2.49 2.49L1.88 3.02L1.21 3.42L0.55 3.67L0.00 3.75L-0.55 3.67L-1.21 3.42L-1.88 3.02L-2.49 2.49L-3.02 1.88L-3.42 1.21L-3.67 0.55L-3.75 0.00L-3.67 -0.55L-3.42 -1.21L-3.02 -1.88L-2.49 -2.49L-1.88 -3.02L-1.21 -3.42L-0.55 -3.67L-0.00 -3.75L0.55 -3.67L1.21 -3.42L1.88 -3.02L2.49 -2.49L3.02 -1.88L3.42 -1.21L3.67 -0.55Z"/><path transform="translate(683.5 896.5)" d="M3.75 0.00L3.67 0.55L3.42 1.21L3.02 1.88L2.49 2.49L1.88 3.02L1.21 3.42L0.55 3.67L0.00 3.75L-0.55 3.67L-1.21 3.42L-1.88 3.02L-2.49 2.49L-3.02 1.88L-3.42 1.21L-3.67 0.55L-3.75 0.00L-3.67 -0.55L-3.42 -1.21L-3.02 -1.88L-2.49 -2.49L-1.88 -3.02L-1.21 -3.42L-0.55 -3.67L-0.00 -3.75L0.55 -3.67L1.21 -3.42L1.88 -3.02L2.49 -2.49L3.02 -1.88L3.42 -1.21L3.67 -0.55Z"/><path transform="translate(694.5 896.5)" d="M3.75 0.00L3.67 0.55L3.42 1.21L3.02 1.88L2.49 2.49L1.88 3.02L1.21 3.42L0.55 3.67L0.00 3.75L-0.55 3.67L-1.21 3.42L-1.88 3.02L-2.49 2.49L-3.02 1.88L-3.42 1.21L-3.67 0.55L-3.75 0.00L-3.67 -0.55L-3.42 -1.21L-3.02 -1.88L-2.49 -2.49L-1.88 -3.02L-1.21 -3.42L-0.55 -3.67L-0.00 -3.75L0.55 -3.67L1.21 -3.42L1.88 -3.02L2.49 -2.49L3.02 -1.88L3.42 -1.21L3.67 -0.55Z"/><path transform="translate(704.5 896.5)" d="M3.75 0.00L3.67 0.55L3.42 1.21L3.02 1.88L2.49 2.49L1.88 3.02L1.21 3.42L0.55 3.67L0.00 3.75L-0.55 3.67L-1.21 3.42L-1.88 3.02L-2.49 2.49L-3.02 1.88L-3.42 1.21L-3.67 0.55L-3.75 0.00L-3.67 -0.55L-3.42 -1.21L-3.02 -1.88L-2.49 -2.49L-1.88 -3.02L-1.21 -3.42L-0.55 -3.67L-0.00 -3.75L0.55 -3.67L1.21 -3.42L1.88 -3.02L2.49 -2.49L3.02 -1.88L3.42 -1.21L3.67 -0.55Z"/><path transform="translate(714.5 896.5)" d="M3.75 0.00L3.67 0.55L3.42 1.21L3.02 1.88L2.49 2.49L1.88 3.02L1.21 3.42L0.55 3.67L0.00 3.75L-0.55 3.67L-1.21 3.42L-1.88 3.02L-2.49 2.49L-3.02 1.88L-3.42 1.21L-3.67 0.55L-3.75 0.00L-3.67 -0.55L-3.42 -1.21L-3.02 -1.88L-2.49 -2.49L-1.88 -3.02L-1.21 -3.42L-0.55 -3.67L-0.00 -3.75L0.55 -3.67L1.21 -3.42L1.88 -3.02L2.49 -2.49L3.02 -1.88L3.42 -1.21L3.67 -0.55Z"/><path transform="translate(724.5 896.5)" d="M3.75 0.00L3.67 0.55L3.42 1.21L3.02 1.88L2.49 2.49L1.88 3.02L1.21 3.42L0.55 3.67L0.00 3.75L-0.55 3.67L-1.21 3.42L-1.88 3.02L-2.49 2.49L-3.02 1.88L-3.42 1.21L-3.67 0.55L-3.75 0.00L-3.67 -0.55L-3.42 -1.21L-3.02 -1.88L-2.49 -2.49L-1.88 -3.02L-1.21 -3.42L-0.55 -3.67L-0.00 -3.75L0.55 -3.67L1.21 -3.42L1.88 -3.02L2.49 -2.49L3.02 -1.88L3.42 -1.21L3.67 -0.55Z"/><path transform="translate(734.5 896.5)" d="M3.75 0.00L3.67 0.55L3.42 1.21L3.02 1.88L2.49 2.49L1.88 3.02L1.21 3.42L0.55 3.67L0.00 3.75L-0.55 3.67L-1.21 3.42L-1.88 3.02L-2.49 2.49L-3.02 1.88L-3.42 1.21L-3.67 0.55L-3.75 0.00L-3.67 -0.55L-3.42 -1.21L-3.02 -1.88L-2.49 -2.49L-1.88 -3.02L-1.21 -3.42L-0.55 -3.67L-0.00 -3.75L0.55 -3.67L1.21 -3.42L1.88 -3.02L2.49 -2.49L3.02 -1.88L3.42 -1.21L3.67 -0.55Z"/><path transform="translate(745.5 896.5)" d="M3.75 0.00L3.67 0.55L3.42 1.21L3.02 1.88L2.49 2.49L1.88 3.02L1.21 3.42L0.55 3.67L0.00 3.75L-0.55 3.67L-1.21 3.42L-1.88 3.02L-2.49 2.49L-3.02 1.88L-3.42 1.21L-3.67 0.55L-3.75 0.00L-3.67 -0.55L-3.42 -1.21L-3.02 -1.88L-2.49 -2.49L-1.88 -3.02L-1.21 -3.42L-0.55 -3.67L-0.00 -3.75L0.55 -3.67L1.21 -3.42L1.88 -3.02L2.49 -2.49L3.02 -1.88L3.42 -1.21L3.67 -0.55Z"/><path transform="translate(755.5 896.5)" d="M3.75 0.00L3.67 0.55L3.42 1.21L3.02 1.88L2.49 2.49L1.88 3.02L1.21 3.42L0.55 3.67L0.00 3.75L-0.55 3.67L-1.21 3.42L-1.88 3.02L-2.49 2.49L-3.02 1.88L-3.42 1.21L-3.67 0.55L-3.75 0.00L-3.67 -0.55L-3.42 -1.21L-3.02 -1.88L-2.49 -2.49L-1.88 -3.02L-1.21 -3.42L-0.55 -3.67L-0.00 -3.75L0.55 -3.67L1.21 -3.42L1.88 -3.02L2.49 -2.49L3.02 -1.88L3.42 -1.21L3.67 -0.55Z"/><path transform="translate(765.5 895.5)" d="M3.75 0.00L3.67 0.55L3.42 1.21L3.02 1.88L2.49 2.49L1.88 3.02L1.21 3.42L0.55 3.67L0.00 3.75L-0.55 3.67L-1.21 3.42L-1.88 3.02L-2.49 2.49L-3.02 1.88L-3.42 1.21L-3.67 0.55L-3.75 0.00L-3.67 -0.55L-3.42 -1.21L-3.02 -1.88L-2.49 -2.49L-1.88 -3.02L-1.21 -3.42L-0.55 -3.67L-0.00 -3.75L0.55 -3.67L1.21 -3.42L1.88 -3.02L2.49 -2.49L3.02 -1.88L3.42 -1.21L3.67 -0.55Z"/><path transform="translate(775.5 894.5)" d="M3.75 0.00L3.67 0.55L3.42 1.21L3.02 1.88L2.49 2.49L1.88 3.02L1.21 3.42L0.55 3.67L0.00 3.75L-0.55 3.67L-1.21 3.42L-1.88 3.02L-2.49 2.49L-3.02 1.88L-3.42 1.21L-3.67 0.55L-3.75 0.00L-3.67 -0.55L-3.42 -1.21L-3.02 -1.88L-2.49 -2.49L-1.88 -3.02L-1.21 -3.42L-0.55 -3.67L-0.00 -3.75L0.55 -3.67L1.21 -3.42L1.88 -3.02L2.49 -2.49L3.02 -1.88L3.42 -1.21L3.67 -0.55Z"/><path transform="translate(786.5 894.5)" d="M3.75 0.00L3.67 0.55L3.42 1.21L3.02 1.88L2.49 2.49L1.88 3.02L1.21 3.42L0.55 3.67L0.00 3.75L-0.55 3.67L-1.21 3.42L-1.88 3.02L-2.49 2.49L-3.02 1.88L-3.42 1.21L-3.67 0.55L-3.75 0.00L-3.67 -0.55L-3.42 -1.21L-3.02 -1.88L-2.49 -2.49L-1.88 -3.02L-1.21 -3.42L-0.55 -3.67L-0.00 -3.75L0.55 -3.67L1.21 -3.42L1.88 -3.02L2.49 -2.49L3.02 -1.88L3.42 -1.21L3.67 -0.55Z"/><path transform="translate(796.5 893.5)" d="M3.75 0.00L3.67 0.55L3.42 1.21L3.02 1.88L2.49 2.49L1.88 3.02L1.21 3.42L0.55 3.67L0.00 3.75L-0.55 3.67L-1.21 3.42L-1.88 3.02L-2.49 2.49L-3.02 1.88L-3.42 1.21L-3.67 0.55L-3.75 0.00L-3.67 -0.55L-3.42 -1.21L-3.02 -1.88L-2.49 -2.49L-1.88 -3.02L-1.21 -3.42L-0.55 -3.67L-0.00 -3.75L0.55 -3.67L1.21 -3.42L1.88 -3.02L2.49 -2.49L3.02 -1.88L3.42 -1.21L3.67 -0.55Z"/><path transform="translate(806.5 893.5)" d="M3.75 0.00L3.67 0.55L3.42 1.21L3.02 1.88L2.49 2.49L1.88 3.02L1.21 3.42L0.55 3.67L0.00 3.75L-0.55 3.67L-1.21 3.42L-1.88 3.02L-2.49 2.49L-3.02 1.88L-3.42 1.21L-3.67 0.55L-3.75 0.00L-3.67 -0.55L-3.42 -1.21L-3.02 -1.88L-2.49 -2.49L-1.88 -3.02L-1.21 -3.42L-0.55 -3.67L-0.00 -3.75L0.55 -3.67L1.21 -3.42L1.88 -3.02L2.49 -2.49L3.02 -1.88L3.42 -1.21L3.67 -0.55Z"/><path transform="translate(816.5 893.5)" d="M3.75 0.00L3.67 0.55L3.42 1.21L3.02 1.88L2.49 2.49L1.88 3.02L1.21 3.42L0.55 3.67L0.00 3.75L-0.55 3.67L-1.21 3.42L-1.88 3.02L-2.49 2.49L-3.02 1.88L-3.42 1.21L-3.67 0.55L-3.75 0.00L-3.67 -0.55L-3.42 -1.21L-3.02 -1.88L-2.49 -2.49L-1.88 -3.02L-1.21 -3.42L-0.55 -3.67L-0.00 -3.75L0.55 -3.67L1.21 -3.42L1.88 -3.02L2.49 -2.49L3.02 -1.88L3.42 -1.21L3.67 -0.55Z"/><path transform="translate(826.5 892.5)" d="M3.75 0.00L3.67 0.55L3.42 1.21L3.02 1.88L2.49 2.49L1.88 3.02L1.21 3.42L0.55 3.67L0.00 3.75L-0.55 3.67L-1.21 3.42L-1.88 3.02L-2.49 2.49L-3.02 1.88L-3.42 1.21L-3.67 0.55L-3.75 0.00L-3.67 -0.55L-3.42 -1.21L-3.02 -1.88L-2.49 -2.49L-1.88 -3.02L-1.21 -3.42L-0.55 -3.67L-0.00 -3.75L0.55 -3.67L1.21 -3.42L1.88 -3.02L2.49 -2.49L3.02 -1.88L3.42 -1.21L3.67 -0.55Z"/><path transform="translate(837.5 891.5)" d="M3.75 0.00L3.67 0.55L3.42 1.21L3.02 1.88L2.49 2.49L1.88 3.02L1.21 3.42L0.55 3.67L0.00 3.75L-0.55 3.67L-1.21 3.42L-1.88 3.02L-2.49 2.49L-3.02 1.88L-3.42 1.21L-3.67 0.55L-3.75 0.00L-3.67 -0.55L-3.42 -1.21L-3.02 -1.88L-2.49 -2.49L-1.88 -3.02L-1.21 -3.42L-0.55 -3.67L-0.00 -3.75L0.55 -3.67L1.21 -3.42L1.88 -3.02L2.49 -2.49L3.02 -1.88L3.42 -1.21L3.67 -0.55Z"/><path transform="translate(847.5 892.5)" d="M3.75 0.00L3.67 0.55L3.42 1.21L3.02 1.88L2.49 2.49L1.88 3.02L1.21 3.42L0.55 3.67L0.00 3.75L-0.55 3.67L-1.21 3.42L-1.88 3.02L-2.49 2.49L-3.02 1.88L-3.42 1.21L-3.67 0.55L-3.75 0.00L-3.67 -0.55L-3.42 -1.21L-3.02 -1.88L-2.49 -2.49L-1.88 -3.02L-1.21 -3.42L-0.55 -3.67L-0.00 -3.75L0.55 -3.67L1.21 -3.42L1.88 -3.02L2.49 -2.49L3.02 -1.88L3.42 -1.21L3.67 -0.55Z"/><path transform="translate(857.5 890.5)" d="M3.75 0.00L3.67 0.55L3.42 1.21L3.02 1.88L2.49 2.49L1.88 3.02L1.21 3.42L0.55 3.67L0.00 3.75L-0.55 3.67L-1.21 3.42L-1.88 3.02L-2.49 2.49L-3.02 1.88L-3.42 1.21L-3.67 0.55L-3.75 0.00L-3.67 -0.55L-3.42 -1.21L-3.02 -1.88L-2.49 -2.49L-1.88 -3.02L-1.21 -3.42L-0.55 -3.67L-0.00 -3.75L0.55 -3.67L1.21 -3.42L1.88 -3.02L2.49 -2.49L3.02 -1.88L3.42 -1.21L3.67 -0.55Z"/><path transform="translate(867.5 890.5)" d="M3.75 0.00L3.67 0.55L3.42 1.21L3.02 1.88L2.49 2.49L1.88 3.02L1.21 3.42L0.55 3.67L0.00 3.75L-0.55 3.67L-1.21 3.42L-1.88 3.02L-2.49 2.49L-3.02 1.88L-3.42 1.21L-3.67 0.55L-3.75 0.00L-3.67 -0.55L-3.42 -1.21L-3.02 -1.88L-2.49 -2.49L-1.88 -3.02L-1.21 -3.42L-0.55 -3.67L-0.00 -3.75L0.55 -3.67L1.21 -3.42L1.88 -3.02L2.49 -2.49L3.02 -1.88L3.42 -1.21L3.67 -0.55Z"/><path transform="translate(877.5 890.5)" d="M3.75 0.00L3.67 0.55L3.42 1.21L3.02 1.88L2.49 2.49L1.88 3.02L1.21 3.42L0.55 3.67L0.00 3.75L-0.55 3.67L-1.21 3.42L-1.88 3.02L-2.49 2.49L-3.02 1.88L-3.42 1.21L-3.67 0.55L-3.75 0.00L-3.67 -0.55L-3.42 -1.21L-3.02 -1.88L-2.49 -2.49L-1.88 -3.02L-1.21 -3.42L-0.55 -3.67L-0.00 -3.75L0.55 -3.67L1.21 -3.42L1.88 -3.02L2.49 -2.49L3.02 -1.88L3.42 -1.21L3.67 -0.55Z"/><path transform="translate(888.5 887.5)" d="M3.75 0.00L3.67 0.55L3.42 1.21L3.02 1.88L2.49 2.49L1.88 3.02L1.21 3.42L0.55 3.67L0.00 3.75L-0.55 3.67L-1.21 3.42L-1.88 3.02L-2.49 2.49L-3.02 1.88L-3.42 1.21L-3.67 0.55L-3.75 0.00L-3.67 -0.55L-3.42 -1.21L-3.02 -1.88L-2.49 -2.49L-1.88 -3.02L-1.21 -3.42L-0.55 -3.67L-0.00 -3.75L0.55 -3.67L1.21 -3.42L1.88 -3.02L2.49 -2.49L3.02 -1.88L3.42 -1.21L3.67 -0.55Z"/><path transform="translate(898.5 886.5)" d="M3.75 0.00L3.67 0.55L3.42 1.21L3.02 1.88L2.49 2.49L1.88 3.02L1.21 3.42L0.55 3.67L0.00 3.75L-0.55 3.67L-1.21 3.42L-1.88 3.02L-2.49 2.49L-3.02 1.88L-3.42 1.21L-3.67 0.55L-3.75 0.00L-3.67 -0.55L-3.42 -1.21L-3.02 -1.88L-2.49 -2.49L-1.88 -3.02L-1.21 -3.42L-0.55 -3.67L-0.00 -3.75L0.55 -3.67L1.21 -3.42L1.88 -3.02L2.49 -2.49L3.02 -1.88L3.42 -1.21L3.67 -0.55Z"/><path transform="translate(908.5 884.5)" d="M3.75 0.00L3.67 0.55L3.42 1.21L3.02 1.88L2.49 2.49L1.88 3.02L1.21 3.42L0.55 3.67L0.00 3.75L-0.55 3.67L-1.21 3.42L-1.88 3.02L-2.49 2.49L-3.02 1.88L-3.42 1.21L-3.67 0.55L-3.75 0.00L-3.67 -0.55L-3.42 -1.21L-3.02 -1.88L-2.49 -2.49L-1.88 -3.02L-1.21 -3.42L-0.55 -3.67L-0.00 -3.75L0.55 -3.67L1.21 -3.42L1.88 -3.02L2.49 -2.49L3.02 -1.88L3.42 -1.21L3.67 -0.55Z"/><path transform="translate(918.5 878.5)" d="M3.75 0.00L3.67 0.55L3.42 1.21L3.02 1.88L2.49 2.49L1.88 3.02L1.21 3.42L0.55 3.67L0.00 3.75L-0.55 3.67L-1.21 3.42L-1.88 3.02L-2.49 2.49L-3.02 1.88L-3.42 1.21L-3.67 0.55L-3.75 0.00L-3.67 -0.55L-3.42 -1.21L-3.02 -1.88L-2.49 -2.49L-1.88 -3.02L-1.21 -3.42L-0.55 -3.67L-0.00 -3.75L0.55 -3.67L1.21 -3.42L1.88 -3.02L2.49 -2.49L3.02 -1.88L3.42 -1.21L3.67 -0.55Z"/><path transform="translate(928.5 876.5)" d="M3.75 0.00L3.67 0.55L3.42 1.21L3.02 1.88L2.49 2.49L1.88 3.02L1.21 3.42L0.55 3.67L0.00 3.75L-0.55 3.67L-1.21 3.42L-1.88 3.02L-2.49 2.49L-3.02 1.88L-3.42 1.21L-3.67 0.55L-3.75 0.00L-3.67 -0.55L-3.42 -1.21L-3.02 -1.88L-2.49 -2.49L-1.88 -3.02L-1.21 -3.42L-0.55 -3.67L-0.00 -3.75L0.55 -3.67L1.21 -3.42L1.88 -3.02L2.49 -2.49L3.02 -1.88L3.42 -1.21L3.67 -0.55Z"/><path transform="translate(939.5 872.5)" d="M3.75 0.00L3.67 0.55L3.42 1.21L3.02 1.88L2.49 2.49L1.88 3.02L1.21 3.42L0.55 3.67L0.00 3.75L-0.55 3.67L-1.21 3.42L-1.88 3.02L-2.49 2.49L-3.02 1.88L-3.42 1.21L-3.67 0.55L-3.75 0.00L-3.67 -0.55L-3.42 -1.21L-3.02 -1.88L-2.49 -2.49L-1.88 -3.02L-1.21 -3.42L-0.55 -3.67L-0.00 -3.75L0.55 -3.67L1.21 -3.42L1.88 -3.02L2.49 -2.49L3.02 -1.88L3.42 -1.21L3.67 -0.55Z"/><path transform="translate(949.5 868.5)" d="M3.75 0.00L3.67 0.55L3.42 1.21L3.02 1.88L2.49 2.49L1.88 3.02L1.21 3.42L0.55 3.67L0.00 3.75L-0.55 3.67L-1.21 3.42L-1.88 3.02L-2.49 2.49L-3.02 1.88L-3.42 1.21L-3.67 0.55L-3.75 0.00L-3.67 -0.55L-3.42 -1.21L-3.02 -1.88L-2.49 -2.49L-1.88 -3.02L-1.21 -3.42L-0.55 -3.67L-0.00 -3.75L0.55 -3.67L1.21 -3.42L1.88 -3.02L2.49 -2.49L3.02 -1.88L3.42 -1.21L3.67 -0.55Z"/><path transform="translate(959.5 863.5)" d="M3.75 0.00L3.67 0.55L3.42 1.21L3.02 1.88L2.49 2.49L1.88 3.02L1.21 3.42L0.55 3.67L0.00 3.75L-0.55 3.67L-1.21 3.42L-1.88 3.02L-2.49 2.49L-3.02 1.88L-3.42 1.21L-3.67 0.55L-3.75 0.00L-3.67 -0.55L-3.42 -1.21L-3.02 -1.88L-2.49 -2.49L-1.88 -3.02L-1.21 -3.42L-0.55 -3.67L-0.00 -3.75L0.55 -3.67L1.21 -3.42L1.88 -3.02L2.49 -2.49L3.02 -1.88L3.42 -1.21L3.67 -0.55Z"/><path transform="translate(969.5 851.5)" d="M3.75 0.00L3.67 0.55L3.42 1.21L3.02 1.88L2.49 2.49L1.88 3.02L1.21 3.42L0.55 3.67L0.00 3.75L-0.55 3.67L-1.21 3.42L-1.88 3.02L-2.49 2.49L-3.02 1.88L-3.42 1.21L-3.67 0.55L-3.75 0.00L-3.67 -0.55L-3.42 -1.21L-3.02 -1.88L-2.49 -2.49L-1.88 -3.02L-1.21 -3.42L-0.55 -3.67L-0.00 -3.75L0.55 -3.67L1.21 -3.42L1.88 -3.02L2.49 -2.49L3.02 -1.88L3.42 -1.21L3.67 -0.55Z"/><path transform="translate(980.5 845.5)" d="M3.75 0.00L3.67 0.55L3.42 1.21L3.02 1.88L2.49 2.49L1.88 3.02L1.21 3.42L0.55 3.67L0.00 3.75L-0.55 3.67L-1.21 3.42L-1.88 3.02L-2.49 2.49L-3.02 1.88L-3.42 1.21L-3.67 0.55L-3.75 0.00L-3.67 -0.55L-3.42 -1.21L-3.02 -1.88L-2.49 -2.49L-1.88 -3.02L-1.21 -3.42L-0.55 -3.67L-0.00 -3.75L0.55 -3.67L1.21 -3.42L1.88 -3.02L2.49 -2.49L3.02 -1.88L3.42 -1.21L3.67 -0.55Z"/><path transform="translate(990.5 834.5)" d="M3.75 0.00L3.67 0.55L3.42 1.21L3.02 1.88L2.49 2.49L1.88 3.02L1.21 3.42L0.55 3.67L0.00 3.75L-0.55 3.67L-1.21 3.42L-1.88 3.02L-2.49 2.49L-3.02 1.88L-3.42 1.21L-3.67 0.55L-3.75 0.00L-3.67 -0.55L-3.42 -1.21L-3.02 -1.88L-2.49 -2.49L-1.88 -3.02L-1.21 -3.42L-0.55 -3.67L-0.00 -3.75L0.55 -3.67L1.21 -3.42L1.88 -3.02L2.49 -2.49L3.02 -1.88L3.42 -1.21L3.67 -0.55Z"/><path transform="translate(1000.5 826.5)" d="M3.75 0.00L3.67 0.55L3.42 1.21L3.02 1.88L2.49 2.49L1.88 3.02L1.21 3.42L0.55 3.67L0.00 3.75L-0.55 3.67L-1.21 3.42L-1.88 3.02L-2.49 2.49L-3.02 1.88L-3.42 1.21L-3.67 0.55L-3.75 0.00L-3.67 -0.55L-3.42 -1.21L-3.02 -1.88L-2.49 -2.49L-1.88 -3.02L-1.21 -3.42L-0.55 -3.67L-0.00 -3.75L0.55 -3.67L1.21 -3.42L1.88 -3.02L2.49 -2.49L3.02 -1.88L3.42 -1.21L3.67 -0.55Z"/><path transform="translate(1010.5 814.5)" d="M3.75 0.00L3.67 0.55L3.42 1.21L3.02 1.88L2.49 2.49L1.88 3.02L1.21 3.42L0.55 3.67L0.00 3.75L-0.55 3.67L-1.21 3.42L-1.88 3.02L-2.49 2.49L-3.02 1.88L-3.42 1.21L-3.67 0.55L-3.75 0.00L-3.67 -0.55L-3.42 -1.21L-3.02 -1.88L-2.49 -2.49L-1.88 -3.02L-1.21 -3.42L-0.55 -3.67L-0.00 -3.75L0.55 -3.67L1.21 -3.42L1.88 -3.02L2.49 -2.49L3.02 -1.88L3.42 -1.21L3.67 -0.55Z"/><path transform="translate(1020.5 798.5)" d="M3.75 0.00L3.67 0.55L3.42 1.21L3.02 1.88L2.49 2.49L1.88 3.02L1.21 3.42L0.55 3.67L0.00 3.75L-0.55 3.67L-1.21 3.42L-1.88 3.02L-2.49 2.49L-3.02 1.88L-3.42 1.21L-3.67 0.55L-3.75 0.00L-3.67 -0.55L-3.42 -1.21L-3.02 -1.88L-2.49 -2.49L-1.88 -3.02L-1.21 -3.42L-0.55 -3.67L-0.00 -3.75L0.55 -3.67L1.21 -3.42L1.88 -3.02L2.49 -2.49L3.02 -1.88L3.42 -1.21L3.67 -0.55Z"/><path transform="translate(1031.5 790.5)" d="M3.75 0.00L3.67 0.55L3.42 1.21L3.02 1.88L2.49 2.49L1.88 3.02L1.21 3.42L0.55 3.67L0.00 3.75L-0.55 3.67L-1.21 3.42L-1.88 3.02L-2.49 2.49L-3.02 1.88L-3.42 1.21L-3.67 0.55L-3.75 0.00L-3.67 -0.55L-3.42 -1.21L-3.02 -1.88L-2.49 -2.49L-1.88 -3.02L-1.21 -3.42L-0.55 -3.67L-0.00 -3.75L0.55 -3.67L1.21 -3.42L1.88 -3.02L2.49 -2.49L3.02 -1.88L3.42 -1.21L3.67 -0.55Z"/><path transform="translate(1041.5 771.5)" d="M3.75 0.00L3.67 0.55L3.42 1.21L3.02 1.88L2.49 2.49L1.88 3.02L1.21 3.42L0.55 3.67L0.00 3.75L-0.55 3.67L-1.21 3.42L-1.88 3.02L-2.49 2.49L-3.02 1.88L-3.42 1.21L-3.67 0.55L-3.75 0.00L-3.67 -0.55L-3.42 -1.21L-3.02 -1.88L-2.49 -2.49L-1.88 -3.02L-1.21 -3.42L-0.55 -3.67L-0.00 -3.75L0.55 -3.67L1.21 -3.42L1.88 -3.02L2.49 -2.49L3.02 -1.88L3.42 -1.21L3.67 -0.55Z"/><path transform="translate(1051.5 754.5)" d="M3.75 0.00L3.67 0.55L3.42 1.21L3.02 1.88L2.49 2.49L1.88 3.02L1.21 3.42L0.55 3.67L0.00 3.75L-0.55 3.67L-1.21 3.42L-1.88 3.02L-2.49 2.49L-3.02 1.88L-3.42 1.21L-3.67 0.55L-3.75 0.00L-3.67 -0.55L-3.42 -1.21L-3.02 -1.88L-2.49 -2.49L-1.88 -3.02L-1.21 -3.42L-0.55 -3.67L-0.00 -3.75L0.55 -3.67L1.21 -3.42L1.88 -3.02L2.49 -2.49L3.02 -1.88L3.42 -1.21L3.67 -0.55Z"/><path transform="translate(1061.5 724.5)" d="M3.75 0.00L3.67 0.55L3.42 1.21L3.02 1.88L2.49 2.49L1.88 3.02L1.21 3.42L0.55 3.67L0.00 3.75L-0.55 3.67L-1.21 3.42L-1.88 3.02L-2.49 2.49L-3.02 1.88L-3.42 1.21L-3.67 0.55L-3.75 0.00L-3.67 -0.55L-3.42 -1.21L-3.02 -1.88L-2.49 -2.49L-1.88 -3.02L-1.21 -3.42L-0.55 -3.67L-0.00 -3.75L0.55 -3.67L1.21 -3.42L1.88 -3.02L2.49 -2.49L3.02 -1.88L3.42 -1.21L3.67 -0.55Z"/><path transform="translate(1071.5 690.5)" d="M3.75 0.00L3.67 0.55L3.42 1.21L3.02 1.88L2.49 2.49L1.88 3.02L1.21 3.42L0.55 3.67L0.00 3.75L-0.55 3.67L-1.21 3.42L-1.88 3.02L-2.49 2.49L-3.02 1.88L-3.42 1.21L-3.67 0.55L-3.75 0.00L-3.67 -0.55L-3.42 -1.21L-3.02 -1.88L-2.49 -2.49L-1.88 -3.02L-1.21 -3.42L-0.55 -3.67L-0.00 -3.75L0.55 -3.67L1.21 -3.42L1.88 -3.02L2.49 -2.49L3.02 -1.88L3.42 -1.21L3.67 -0.55Z"/><path transform="translate(1082.5 629.5)" d="M3.75 0.00L3.67 0.55L3.42 1.21L3.02 1.88L2.49 2.49L1.88 3.02L1.21 3.42L0.55 3.67L0.00 3.75L-0.55 3.67L-1.21 3.42L-1.88 3.02L-2.49 2.49L-3.02 1.88L-3.42 1.21L-3.67 0.55L-3.75 0.00L-3.67 -0.55L-3.42 -1.21L-3.02 -1.88L-2.49 -2.49L-1.88 -3.02L-1.21 -3.42L-0.55 -3.67L-0.00 -3.75L0.55 -3.67L1.21 -3.42L1.88 -3.02L2.49 -2.49L3.02 -1.88L3.42 -1.21L3.67 -0.55Z"/><path transform="translate(1092.5 534.5)" d="M3.75 0.00L3.67 0.55L3.42 1.21L3.02 1.88L2.49 2.49L1.88 3.02L1.21 3.42L0.55 3.67L0.00 3.75L-0.55 3.67L-1.21 3.42L-1.88 3.02L-2.49 2.49L-3.02 1.88L-3.42 1.21L-3.67 0.55L-3.75 0.00L-3.67 -0.55L-3.42 -1.21L-3.02 -1.88L-2.49 -2.49L-1.88 -3.02L-1.21 -3.42L-0.55 -3.67L-0.00 -3.75L0.55 -3.67L1.21 -3.42L1.88 -3.02L2.49 -2.49L3.02 -1.88L3.42 -1.21L3.67 -0.55Z"/><path transform="translate(1102.5 415.5)" d="M3.75 0.00L3.67 0.55L3.42 1.21L3.02 1.88L2.49 2.49L1.88 3.02L1.21 3.42L0.55 3.67L0.00 3.75L-0.55 3.67L-1.21 3.42L-1.88 3.02L-2.49 2.49L-3.02 1.88L-3.42 1.21L-3.67 0.55L-3.75 0.00L-3.67 -0.55L-3.42 -1.21L-3.02 -1.88L-2.49 -2.49L-1.88 -3.02L-1.21 -3.42L-0.55 -3.67L-0.00 -3.75L0.55 -3.67L1.21 -3.42L1.88 -3.02L2.49 -2.49L3.02 -1.88L3.42 -1.21L3.67 -0.55Z"/><path transform="translate(1112.5 276.5)" d="M3.75 0.00L3.67 0.55L3.42 1.21L3.02 1.88L2.49 2.49L1.88 3.02L1.21 3.42L0.55 3.67L0.00 3.75L-0.55 3.67L-1.21 3.42L-1.88 3.02L-2.49 2.49L-3.02 1.88L-3.42 1.21L-3.67 0.55L-3.75 0.00L-3.67 -0.55L-3.42 -1.21L-3.02 -1.88L-2.49 -2.49L-1.88 -3.02L-1.21 -3.42L-0.55 -3.67L-0.00 -3.75L0.55 -3.67L1.21 -3.42L1.88 -3.02L2.49 -2.49L3.02 -1.88L3.42 -1.21L3.67 -0.55Z"/><path transform="translate(1122.5 432.5)" d="M3.75 0.00L3.67 0.55L3.42 1.21L3.02 1.88L2.49 2.49L1.88 3.02L1.21 3.42L0.55 3.67L0.00 3.75L-0.55 3.67L-1.21 3.42L-1.88 3.02L-2.49 2.49L-3.02 1.88L-3.42 1.21L-3.67 0.55L-3.75 0.00L-3.67 -0.55L-3.42 -1.21L-3.02 -1.88L-2.49 -2.49L-1.88 -3.02L-1.21 -3.42L-0.55 -3.67L-0.00 -3.75L0.55 -3.67L1.21 -3.42L1.88 -3.02L2.49 -2.49L3.02 -1.88L3.42 -1.21L3.67 -0.55Z"/><path transform="translate(1133.5 779.5)" d="M3.75 0.00L3.67 0.55L3.42 1.21L3.02 1.88L2.49 2.49L1.88 3.02L1.21 3.42L0.55 3.67L0.00 3.75L-0.55 3.67L-1.21 3.42L-1.88 3.02L-2.49 2.49L-3.02 1.88L-3.42 1.21L-3.67 0.55L-3.75 0.00L-3.67 -0.55L-3.42 -1.21L-3.02 -1.88L-2.49 -2.49L-1.88 -3.02L-1.21 -3.42L-0.55 -3.67L-0.00 -3.75L0.55 -3.67L1.21 -3.42L1.88 -3.02L2.49 -2.49L3.02 -1.88L3.42 -1.21L3.67 -0.55Z"/><path transform="translate(1143.5 893.5)" d="M3.75 0.00L3.67 0.55L3.42 1.21L3.02 1.88L2.49 2.49L1.88 3.02L1.21 3.42L0.55 3.67L0.00 3.75L-0.55 3.67L-1.21 3.42L-1.88 3.02L-2.49 2.49L-3.02 1.88L-3.42 1.21L-3.67 0.55L-3.75 0.00L-3.67 -0.55L-3.42 -1.21L-3.02 -1.88L-2.49 -2.49L-1.88 -3.02L-1.21 -3.42L-0.55 -3.67L-0.00 -3.75L0.55 -3.67L1.21 -3.42L1.88 -3.02L2.49 -2.49L3.02 -1.88L3.42 -1.21L3.67 -0.55Z"/></g><path d="M127 896.5H130M135 896.5H138M137 896.5H140M145 896.5H148M148 896.5H151M156 896.5H159M158 896.5H161M166 896.5H169M168 896.5H171M176 896.5H179M178 896.5H181M186 896.5H189M188 896.5H191M196 896.5H199M199 896.5H202M207 896.5H210M209 896.5H212M217 896.5H220M219 896.5H222M227 896.5H230M229 896.5H232M237 896.5H240M239 896.5H242M247 896.5H250M250 896.5H253M258 896.5H261M260 896.5H263M268 896.5H271M270 896.5H273M278 896.5H281M280 896.5H283M288 896.5H291M290 896.5H293M298 896.5H301M301 896.5H304M309 896.5H312M311 896.5H314M319 896.5H322M321 896.5H324M329 896.5H332M331 896.5H334M339 896.5H342M342 896.5H345M350 896.5H353M352 896.5H355M360 896.5H363M362 896.5H365M370 896.5H373M372 896.5H375M380 896.5H383M382 896.5H385M390 896.5H393M393 896.5H396M401 896.5H404M403 896.5H406M411 896.5H414M413 896.5H416M421 896.5H424M423 896.5H426M431 896.5H434M433 896.5H436M441 896.5H444M444 896.5H447M452 896.5H455M454 896.5H457M462 896.5H465M464 896.5H467M472 896.5H475M474 896.5H477M482 896.5H485M484 896.5H487M492 896.5H495M495 895.5H498M503 895.5H506M505 895.5H508M513 895.5H516M515 895.5H518M523 895.5H526M525 895.5H528M533 895.5H536M535 895.5H538M543 895.5H546M546 895.5H549M554 895.5H557M556 895.5H559M564 895.5H567M566 894.5H569M574 894.5H577M576 894.5H579M584 894.5H587M587 894.5H590M595 894.5H598M597 894.5H600M605 894.5H608M607 894.5H610M615 894.5H618M617 893.5H620M625 893.5H628M627 893.5H630M635 893.5H638M638 893.5H641M646 893.5H649M648 893.5H651M656 893.5H659M658 892.5H661M666 892.5H669M668 892.5H671M676 892.5H679M678 892.5H681M686 892.5H689M689 891.5H692M697 891.5H700M699 890.5H702M707 890.5H710M709 890.5H712M717 890.5H720M719 890.5H722M727 890.5H730M729 890.5H732M737 890.5H740M740 888.5H743M748 888.5H751M750 888.5H753M758 888.5H761M760 888.5H763M768 888.5H771M770 887.5H773M778 887.5H781M781 886.5H784M789 886.5H792M791 885.5H794M799 885.5H802M801 884.5H804M809 884.5H812M811 882.5H814M819 882.5H822M821 880.5H824M829 880.5H832M832 878.5H835M840 878.5H843M842 874.5H845M850 874.5H853M852 870.5H855M860 870.5H863M862 866.5H865M870 866.5H873M872 860.5H875M880 860.5H883M883 854.5H886M891 854.5H894M893 847.5H896M901 847.5H904M903 839.5H906M911 839.5H914M913 831.5H916M921 831.5H924M923 823.5H926M931 823.5H934M934 813.5H937M942 813.5H945M944 803.5H947M952 803.5H955M954 792.5H957M962 792.5H965M964 780.5H967M972 780.5H975M975 767.5H978M983 767.5H986M985 753.5H988M993 753.5H996M995 741.5H998M1003 741.5H1006M1005 729.5H1008M1013 729.5H1016M1015 718.5H1018M1023 718.5H1026M1026 705.5H1029M1034 705.5H1037M1036 692.5H1039M1044 692.5H1047M1046 681.5H1049M1054 681.5H1057M1056 669.5H1059M1064 669.5H1067M1066 661.5H1069M1074 661.5H1077M1077 660.5H1080M1085 660.5H1088M1087 686.5H1090M1095 686.5H1098M1097 723.5H1100M1105 723.5H1108M1107 751.5H1110M1115 751.5H1118M1117 816.5H1120M1125 816.5H1128M1128 881.5H1131M1136 881.5H1139M1138 895.5H1141M1146 895.5H1149" stroke="#000000" stroke-width="1" fill="none"/><path d="M132 893h1v1h-1zM131 894h2v1h-2zM130 895h4v1h-4zM129 896h5v1h-5zM130 897h4v1h-4zM131 898h2v1h-2zM142 893h1v1h-1zM141 894h2v1h-2zM140 895h4v1h-4zM139 896h5v1h-5zM140 897h4v1h-4zM141 898h2v1h-2zM153 893h1v1h-1zM152 894h2v1h-2zM151 895h4v1h-4zM150 896h5v1h-5zM151 897h4v1h-4zM152 898h2v1h-2zM163 893h1v1h-1zM162 894h2v1h-2zM161 895h4v1h-4zM160 896h5v1h-5zM161 897h4v1h-4zM162 898h2v1h-2zM173 893h1v1h-1zM172 894h2v1h-2zM171 895h4v1h-4zM170 896h5v1h-5zM171 897h4v1h-4zM172 898h2v1h-2zM183 893h1v1h-1zM182 894h2v1h-2zM181 895h4v1h-4zM180 896h5v1h-5zM181 897h4v1h-4zM182 898h2v1h-2zM193 893h1v1h-1zM192 894h2v1h-2zM191 895h4v1h-4zM190 896h5v1h-5zM191 897h4v1h-4zM192 898h2v1h-2zM204 893h1v1h-1zM203 894h2v1h-2zM202 895h4v1h-4zM201 896h5v1h-5zM202 897h4v1h-4zM203 898h2v1h-2zM214 893h1v1h-1zM213 894h2v1h-2zM212 895h4v1h-4zM211 896h5v1h-5zM212 897h4v1h-4zM213 898h2v1h-2zM224 893h1v1h-1zM223 894h2v1h-2zM222 895h4v1h-4zM221 896h5v1h-5zM222 897h4v1h-4zM223 898h2v1h-2zM234 893h1v1h-1zM233 894h2v1h-2zM232 895h4v1h-4zM231 896h5v1h-5zM232 897h4v1h-4zM233 898h2v1h-2zM244 893h1v1h-1zM243 894h2v1h-2zM242 895h4v1h-4zM241 896h5v1h-5zM242 897h4v1h-4zM243 898h2v1h-2zM255 893h1v1h-1zM254 894h2v1h-2zM253 895h4v1h-4zM252 896h5v1h-5zM253 897h4v1h-4zM254 898h2v1h-2zM265 893h1v1h-1zM264 894h2v1h-2zM263 895h4v1h-4zM262 896h5v1h-5zM263 897h4v1h-4zM264 898h2v1h-2zM275 893h1v1h-1zM274 894h2v1h-2zM273 895h4v1h-4zM272 896h5v1h-5zM273 897h4v1h-4zM274 898h2v1h-2zM285 893h1v1h-1zM284 894h2v1h-2zM283 895h4v1h-4zM282 896h5v1h-5zM283 897h4v1h-4zM284 898h2v1h-2zM295 893h1v1h-1zM294 894h2v1h-2zM293 895h4v1h-4zM292 896h5v1h-5zM293 897h4v1h-4zM294 898h2v1h-2zM306 893h1v1h-1zM305 894h2v1h-2zM304 895h4v1h-4zM303 896h5v1h-5zM304 897h4v1h-4zM305 898h2v1h-2zM316 893h1v1h-1zM315 894h2v1h-2zM314 895h4v1h-4zM313 896h5v1h-5zM314 897h4v1h-4zM315 898h2v1h-2zM326 893h1v1h-1zM325 894h2v1h-2zM324 895h4v1h-4zM323 896h5v1h-5zM324 897h4v1h-4zM325 898h2v1h-2zM336 893h1v1h-1zM335 894h2v1h-2zM334 895h4v1h-4zM333 896h5v1h-5zM334 897h4v1h-4zM335 898h2v1h-2zM347 893h1v1h-1zM346 894h2v1h-2zM345 895h4v1h-4zM344 896h5v1h-5zM345 897h4v1h-4zM346 898h2v1h-2zM357 893h1v1h-1zM356 894h2v1h-2zM355 895h4v1h-4zM354 896h5v1h-5zM355 897h4v1h-4zM356 898h2v1h-2zM367 893h1v1h-1zM366 894h2v1h-2zM365 895h4v1h-4zM364 896h5v1h-5zM365 897h4v1h-4zM366 898h2v1h-2zM377 893h1v1h-1zM376 894h2v1h-2zM375 895h4v1h-4zM374 896h5v1h-5zM375 897h4v1h-4zM376 898h2v1h-2zM387 893h1v1h-1zM386 894h2v1h-2zM385 895h4v1h-4zM384 896h5v1h-5zM385 897h4v1h-4zM386 898h2v1h-2zM398 893h1v1h-1zM397 894h2v1h-2zM396 895h4v1h-4zM395 896h5v1h-5zM396 897h4v1h-4zM397 898h2v1h-2zM408 893h1v1h-1zM407 894h2v1h-2zM406 895h4v1h-4zM405 896h5v1h-5zM406 897h4v1h-4zM407 898h2v1h-2zM418 893h1v1h-1zM417 894h2v1h-2zM416 895h4v1h-4zM415 896h5v1h-5zM416 897h4v1h-4zM417 898h2v1h-2zM428 893h1v1h-1zM427 894h2v1h-2zM426 895h4v1h-4zM425 896h5v1h-5zM426 897h4v1h-4zM427 898h2v1h-2zM438 893h1v1h-1zM437 894h2v1h-2zM436 895h4v1h-4zM435 896h5v1h-5zM436 897h4v1h-4zM437 898h2v1h-2zM449 893h1v1h-1zM448 894h2v1h-2zM447 895h4v1h-4zM446 896h5v1h-5zM447 897h4v1h-4zM448 898h2v1h-2zM459 893h1v1h-1zM458 894h2v1h-2zM457 895h4v1h-4zM456 896h5v1h-5zM457 897h4v1h-4zM458 898h2v1h-2zM469 893h1v1h-1zM468 894h2v1h-2zM467 895h4v1h-4zM466 896h5v1h-5zM467 897h4v1h-4zM468 898h2v1h-2zM479 893h1v1h-1zM478 894h2v1h-2zM477 895h4v1h-4zM476 896h5v1h-5zM477 897h4v1h-4zM478 898h2v1h-2zM489 893h1v1h-1zM488 894h2v1h-2zM487 895h4v1h-4zM486 896h5v1h-5zM487 897h4v1h-4zM488 898h2v1h-2zM500 892h1v1h-1zM499 893h2v1h-2zM498 894h4v1h-4zM497 895h5v1h-5zM498 896h4v1h-4zM499 897h2v1h-2zM510 892h1v1h-1zM509 893h2v1h-2zM508 894h4v1h-4zM507 895h5v1h-5zM508 896h4v1h-4zM509 897h2v1h-2zM520 892h1v1h-1zM519 893h2v1h-2zM518 894h4v1h-4zM517 895h5v1h-5zM518 896h4v1h-4zM519 897h2v1h-2zM530 892h1v1h-1zM529 893h2v1h-2zM528 894h4v1h-4zM527 895h5v1h-5zM528 896h4v1h-4zM529 897h2v1h-2zM540 892h1v1h-1zM539 893h2v1h-2zM538 894h4v1h-4zM537 895h5v1h-5zM538 896h4v1h-4zM539 897h2v1h-2zM551 892h1v1h-1zM550 893h2v1h-2zM549 894h4v1h-4zM548 895h5v1h-5zM549 896h4v1h-4zM550 897h2v1h-2zM561 892h1v1h-1zM560 893h2v1h-2zM559 894h4v1h-4zM558 895h5v1h-5zM559 896h4v1h-4zM560 897h2v1h-2zM571 891h1v1h-1zM570 892h2v1h-2zM569 893h4v1h-4zM568 894h5v1h-5zM569 895h4v1h-4zM570 896h2v1h-2zM581 891h1v1h-1zM580 892h2v1h-2zM579 893h4v1h-4zM578 894h5v1h-5zM579 895h4v1h-4zM580 896h2v1h-2zM592 891h1v1h-1zM591 892h2v1h-2zM590 893h4v1h-4zM589 894h5v1h-5zM590 895h4v1h-4zM591 896h2v1h-2zM602 891h1v1h-1zM601 892h2v1h-2zM600 893h4v1h-4zM599 894h5v1h-5zM600 895h4v1h-4zM601 896h2v1h-2zM612 891h1v1h-1zM611 892h2v1h-2zM610 893h4v1h-4zM609 894h5v1h-5zM610 895h4v1h-4zM611 896h2v1h-2zM622 890h1v1h-1zM621 891h2v1h-2zM620 892h4v1h-4zM619 893h5v1h-5zM620 894h4v1h-4zM621 895h2v1h-2zM632 890h1v1h-1zM631 891h2v1h-2zM630 892h4v1h-4zM629 893h5v1h-5zM630 894h4v1h-4zM631 895h2v1h-2zM643 890h1v1h-1zM642 891h2v1h-2zM641 892h4v1h-4zM640 893h5v1h-5zM641 894h4v1h-4zM642 895h2v1h-2zM653 890h1v1h-1zM652 891h2v1h-2zM651 892h4v1h-4zM650 893h5v1h-5zM651 894h4v1h-4zM652 895h2v1h-2zM663 889h1v1h-1zM662 890h2v1h-2zM661 891h4v1h-4zM660 892h5v1h-5zM661 893h4v1h-4zM662 894h2v1h-2zM673 889h1v1h-1zM672 890h2v1h-2zM671 891h4v1h-4zM670 892h5v1h-5zM671 893h4v1h-4zM672 894h2v1h-2zM683 889h1v1h-1zM682 890h2v1h-2zM681 891h4v1h-4zM680 892h5v1h-5zM681 893h4v1h-4zM682 894h2v1h-2zM694 888h1v1h-1zM693 889h2v1h-2zM692 890h4v1h-4zM691 891h5v1h-5zM692 892h4v1h-4zM693 893h2v1h-2zM704 887h1v1h-1zM703 888h2v1h-2zM702 889h4v1h-4zM701 890h5v1h-5zM702 891h4v1h-4zM703 892h2v1h-2zM714 887h1v1h-1zM713 888h2v1h-2zM712 889h4v1h-4zM711 890h5v1h-5zM712 891h4v1h-4zM713 892h2v1h-2zM724 887h1v1h-1zM723 888h2v1h-2zM722 889h4v1h-4zM721 890h5v1h-5zM722 891h4v1h-4zM723 892h2v1h-2zM734 887h1v1h-1zM733 888h2v1h-2zM732 889h4v1h-4zM731 890h5v1h-5zM732 891h4v1h-4zM733 892h2v1h-2zM745 885h1v1h-1zM744 886h2v1h-2zM743 887h4v1h-4zM742 888h5v1h-5zM743 889h4v1h-4zM744 890h2v1h-2zM755 885h1v1h-1zM754 886h2v1h-2zM753 887h4v1h-4zM752 888h5v1h-5zM753 889h4v1h-4zM754 890h2v1h-2zM765 885h1v1h-1zM764 886h2v1h-2zM763 887h4v1h-4zM762 888h5v1h-5zM763 889h4v1h-4zM764 890h2v1h-2zM775 884h1v1h-1zM774 885h2v1h-2zM773 886h4v1h-4zM772 887h5v1h-5zM773 888h4v1h-4zM774 889h2v1h-2zM786 883h1v1h-1zM785 884h2v1h-2zM784 885h4v1h-4zM783 886h5v1h-5zM784 887h4v1h-4zM785 888h2v1h-2zM796 882h1v1h-1zM795 883h2v1h-2zM794 884h4v1h-4zM793 885h5v1h-5zM794 886h4v1h-4zM795 887h2v1h-2zM806 881h1v1h-1zM805 882h2v1h-2zM804 883h4v1h-4zM803 884h5v1h-5zM804 885h4v1h-4zM805 886h2v1h-2zM816 879h1v1h-1zM815 880h2v1h-2zM814 881h4v1h-4zM813 882h5v1h-5zM814 883h4v1h-4zM815 884h2v1h-2zM826 877h1v1h-1zM825 878h2v1h-2zM824 879h4v1h-4zM823 880h5v1h-5zM824 881h4v1h-4zM825 882h2v1h-2zM837 875h1v1h-1zM836 876h2v1h-2zM835 877h4v1h-4zM834 878h5v1h-5zM835 879h4v1h-4zM836 880h2v1h-2zM847 871h1v1h-1zM846 872h2v1h-2zM845 873h4v1h-4zM844 874h5v1h-5zM845 875h4v1h-4zM846 876h2v1h-2zM857 867h1v1h-1zM856 868h2v1h-2zM855 869h4v1h-4zM854 870h5v1h-5zM855 871h4v1h-4zM856 872h2v1h-2zM867 863h1v1h-1zM866 864h2v1h-2zM865 865h4v1h-4zM864 866h5v1h-5zM865 867h4v1h-4zM866 868h2v1h-2zM877 857h1v1h-1zM876 858h2v1h-2zM875 859h4v1h-4zM874 860h5v1h-5zM875 861h4v1h-4zM876 862h2v1h-2zM888 851h1v1h-1zM887 852h2v1h-2zM886 853h4v1h-4zM885 854h5v1h-5zM886 855h4v1h-4zM887 856h2v1h-2zM898 844h1v1h-1zM897 845h2v1h-2zM896 846h4v1h-4zM895 847h5v1h-5zM896 848h4v1h-4zM897 849h2v1h-2zM908 836h1v1h-1zM907 837h2v1h-2zM906 838h4v1h-4zM905 839h5v1h-5zM906 840h4v1h-4zM907 841h2v1h-2zM918 828h1v1h-1zM917 829h2v1h-2zM916 830h4v1h-4zM915 831h5v1h-5zM916 832h4v1h-4zM917 833h2v1h-2zM928 820h1v1h-1zM927 821h2v1h-2zM926 822h4v1h-4zM925 823h5v1h-5zM926 824h4v1h-4zM927 825h2v1h-2zM939 810h1v1h-1zM938 811h2v1h-2zM937 812h4v1h-4zM936 813h5v1h-5zM937 814h4v1h-4zM938 815h2v1h-2zM949 800h1v1h-1zM948 801h2v1h-2zM947 802h4v1h-4zM946 803h5v1h-5zM947 804h4v1h-4zM948 805h2v1h-2zM959 789h1v1h-1zM958 790h2v1h-2zM957 791h4v1h-4zM956 792h5v1h-5zM957 793h4v1h-4zM958 794h2v1h-2zM969 777h1v1h-1zM968 778h2v1h-2zM967 779h4v1h-4zM966 780h5v1h-5zM967 781h4v1h-4zM968 782h2v1h-2zM980 764h1v1h-1zM979 765h2v1h-2zM978 766h4v1h-4zM977 767h5v1h-5zM978 768h4v1h-4zM979 769h2v1h-2zM990 750h1v1h-1zM989 751h2v1h-2zM988 752h4v1h-4zM987 753h5v1h-5zM988 754h4v1h-4zM989 755h2v1h-2zM1000 738h1v1h-1zM999 739h2v1h-2zM998 740h4v1h-4zM997 741h5v1h-5zM998 742h4v1h-4zM999 743h2v1h-2zM1010 726h1v1h-1zM1009 727h2v1h-2zM1008 728h4v1h-4zM1007 729h5v1h-5zM1008 730h4v1h-4zM1009 731h2v1h-2zM1020 715h1v1h-1zM1019 716h2v1h-2zM1018 717h4v1h-4zM1017 718h5v1h-5zM1018 719h4v1h-4zM1019 720h2v1h-2zM1031 702h1v1h-1zM1030 703h2v1h-2zM1029 704h4v1h-4zM1028 705h5v1h-5zM1029 706h4v1h-4zM1030 707h2v1h-2zM1041 689h1v1h-1zM1040 690h2v1h-2zM1039 691h4v1h-4zM1038 692h5v1h-5zM1039 693h4v1h-4zM1040 694h2v1h-2zM1051 678h1v1h-1zM1050 679h2v1h-2zM1049 680h4v1h-4zM1048 681h5v1h-5zM1049 682h4v1h-4zM1050 683h2v1h-2zM1061 666h1v1h-1zM1060 667h2v1h-2zM1059 668h4v1h-4zM1058 669h5v1h-5zM1059 670h4v1h-4zM1060 671h2v1h-2zM1071 658h1v1h-1zM1070 659h2v1h-2zM1069 660h4v1h-4zM1068 661h5v1h-5zM1069 662h4v1h-4zM1070 663h2v1h-2zM1082 657h1v1h-1zM1081 658h2v1h-2zM1080 659h4v1h-4zM1079 660h5v1h-5zM1080 661h4v1h-4zM1081 662h2v1h-2zM1092 683h1v1h-1zM1091 684h2v1h-2zM1090 685h4v1h-4zM1089 686h5v1h-5zM1090 687h4v1h-4zM1091 688h2v1h-2zM1102 720h1v1h-1zM1101 721h2v1h-2zM1100 722h4v1h-4zM1099 723h5v1h-5zM1100 724h4v1h-4zM1101 725h2v1h-2zM1112 748h1v1h-1zM1111 749h2v1h-2zM1110 750h4v1h-4zM1109 751h5v1h-5zM1110 752h4v1h-4zM1111 753h2v1h-2zM1122 813h1v1h-1zM1121 814h2v1h-2zM1120 815h4v1h-4zM1119 816h5v1h-5zM1120 817h4v1h-4zM1121 818h2v1h-2zM1133 878h1v1h-1zM1132 879h2v1h-2zM1131 880h4v1h-4zM1130 881h5v1h-5zM1131 882h4v1h-4zM1132 883h2v1h-2zM1143 892h1v1h-1zM1142 893h2v1h-2zM1141 894h4v1h-4zM1140 895h5v1h-5zM1141 896h4v1h-4zM1142 897h2v1h-2z" fill="#000000"/></g>
<rect x="683" y="105" width="3" height="148" fill="#000"/>
<rect x="599" y="250" width="87" height="3" fill="#000"/>
<rect x="593.5" y="99.5" width="89" height="150" fill="#ffffff" stroke="#000" stroke-width="1"/>
<rect x="595" y="101" width="86" height="147" fill="#f1f1f1"/>
<text x="604.5" y="116.7" font-size="19" class="t">Electron</text>
<text x="604.5" y="141.7" font-size="19" class="t">Muon</text>
<text x="604.5" y="166.7" font-size="19" class="t">Pion</text>
<text x="604.5" y="191.7" font-size="19" class="t">Kaon</text>
<text x="604.5" y="216.7" font-size="19" class="t">Proton</text>
<text x="604.5" y="241.7" font-size="19" class="t">Ghost</text>
<path d="M598 109h1v1h-1zM597 110h2v1h-2zM597 111h3v1h-3zM596 112h4v1h-4zM596 113h5v1h-5zM595 114h6v1h-6z" fill="#ff0000"/><path transform="translate(598.5 136.5)" d="M3.75 0.00L3.67 0.55L3.42 1.21L3.02 1.88L2.49 2.49L1.88 3.02L1.21 3.42L0.55 3.67L0.00 3.75L-0.55 3.67L-1.21 3.42L-1.88 3.02L-2.49 2.49L-3.02 1.88L-3.42 1.21L-3.67 0.55L-3.75 0.00L-3.67 -0.55L-3.42 -1.21L-3.02 -1.88L-2.49 -2.49L-1.88 -3.02L-1.21 -3.42L-0.55 -3.67L-0.00 -3.75L0.55 -3.67L1.21 -3.42L1.88 -3.02L2.49 -2.49L3.02 -1.88L3.42 -1.21L3.67 -0.55Z" fill="#0000ff" shape-rendering="auto"/><path d="M594 157h7v1h-7zM595 158h6v1h-6zM596 159h5v1h-5zM596 160h4v1h-4zM597 161h3v1h-3zM597 162h2v1h-2zM598 163h1v1h-1z" fill="#009900"/><path d="M594 182h6v1h-6zM594 183h6v1h-6zM594 184h6v1h-6zM594 185h6v1h-6zM594 186h6v1h-6zM594 187h6v1h-6z" fill="#990099"/><path d="M596 207h3v1h-3zM596 208h3v1h-3zM594 209h7v1h-7zM594 210h7v1h-7zM594 211h7v1h-7zM596 212h3v1h-3zM596 213h3v1h-3z" fill="#66cccc"/><path d="M598 233h1v1h-1zM597 234h2v1h-2zM596 235h4v1h-4zM595 236h5v1h-5zM596 237h4v1h-4zM597 238h2v1h-2z" fill="#000000"/>
</svg>
</body></html>
